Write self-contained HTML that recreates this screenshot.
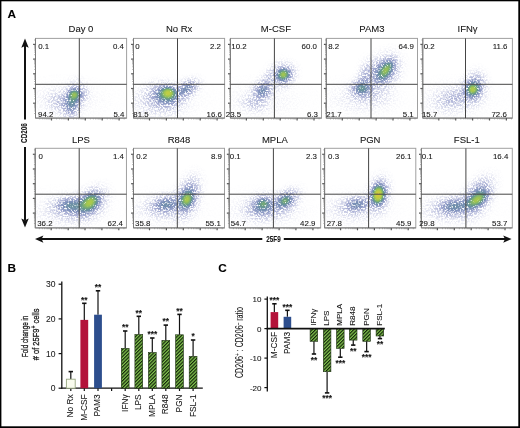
<!DOCTYPE html>
<html><head><meta charset="utf-8"><style>
html,body{margin:0;padding:0;background:#fff;}
body{width:520px;height:428px;overflow:hidden;position:relative;}
svg{position:absolute;left:0;top:0;filter:blur(0.35px);}
text{font-family:"Liberation Sans", sans-serif;stroke:#1a1a1a;stroke-width:0.08px;}
</style></head><body>
<svg width="520" height="428" viewBox="0 0 520 428">
<defs>
<pattern id="hatch" patternUnits="userSpaceOnUse" width="2.45" height="2.45" patternTransform="rotate(45)">
<rect width="2.45" height="2.45" fill="#84c850"/><rect width="1.2" height="2.45" fill="#12230a"/>
</pattern>
<filter id="soft" x="0" y="0" width="1" height="1"><feGaussianBlur stdDeviation="0.45"/></filter>
</defs>
<rect width="520" height="428" fill="#fff"/>

<text x="7.4" y="17.5" font-size="11.8" font-weight="bold" fill="#000">A</text>
<text x="7.6" y="271.9" font-size="11.8" font-weight="bold" fill="#000">B</text>
<text x="218.3" y="271.9" font-size="11.8" font-weight="bold" fill="#000">C</text>
<rect x="35.5" y="38.4" width="91.1" height="79.7" fill="none" stroke="#a0a0a0" stroke-width="1"/>
<path d="M35.5 38.4V118.1H126.6" fill="none" stroke="#7a7a7a" stroke-width="1"/>
<line x1="33.1" y1="44.4" x2="35.5" y2="44.4" stroke="#555" stroke-width="1.2"/>
<line x1="33.1" y1="59.1" x2="35.5" y2="59.1" stroke="#555" stroke-width="1.2"/>
<line x1="33.1" y1="73.8" x2="35.5" y2="73.8" stroke="#555" stroke-width="1.2"/>
<line x1="33.1" y1="88.5" x2="35.5" y2="88.5" stroke="#555" stroke-width="1.2"/>
<line x1="33.1" y1="103.2" x2="35.5" y2="103.2" stroke="#555" stroke-width="1.2"/>
<line x1="34.2" y1="40.0" x2="35.5" y2="40.0" stroke="#8a8a8a" stroke-width="0.7"/>
<line x1="34.2" y1="54.7" x2="35.5" y2="54.7" stroke="#8a8a8a" stroke-width="0.7"/>
<line x1="34.2" y1="52.1" x2="35.5" y2="52.1" stroke="#8a8a8a" stroke-width="0.7"/>
<line x1="34.2" y1="50.2" x2="35.5" y2="50.2" stroke="#8a8a8a" stroke-width="0.7"/>
<line x1="34.2" y1="48.8" x2="35.5" y2="48.8" stroke="#8a8a8a" stroke-width="0.7"/>
<line x1="34.2" y1="47.7" x2="35.5" y2="47.7" stroke="#8a8a8a" stroke-width="0.7"/>
<line x1="34.2" y1="46.7" x2="35.5" y2="46.7" stroke="#8a8a8a" stroke-width="0.7"/>
<line x1="34.2" y1="45.8" x2="35.5" y2="45.8" stroke="#8a8a8a" stroke-width="0.7"/>
<line x1="34.2" y1="45.1" x2="35.5" y2="45.1" stroke="#8a8a8a" stroke-width="0.7"/>
<line x1="34.2" y1="69.4" x2="35.5" y2="69.4" stroke="#8a8a8a" stroke-width="0.7"/>
<line x1="34.2" y1="66.8" x2="35.5" y2="66.8" stroke="#8a8a8a" stroke-width="0.7"/>
<line x1="34.2" y1="64.9" x2="35.5" y2="64.9" stroke="#8a8a8a" stroke-width="0.7"/>
<line x1="34.2" y1="63.5" x2="35.5" y2="63.5" stroke="#8a8a8a" stroke-width="0.7"/>
<line x1="34.2" y1="62.4" x2="35.5" y2="62.4" stroke="#8a8a8a" stroke-width="0.7"/>
<line x1="34.2" y1="61.4" x2="35.5" y2="61.4" stroke="#8a8a8a" stroke-width="0.7"/>
<line x1="34.2" y1="60.5" x2="35.5" y2="60.5" stroke="#8a8a8a" stroke-width="0.7"/>
<line x1="34.2" y1="59.8" x2="35.5" y2="59.8" stroke="#8a8a8a" stroke-width="0.7"/>
<line x1="34.2" y1="84.1" x2="35.5" y2="84.1" stroke="#8a8a8a" stroke-width="0.7"/>
<line x1="34.2" y1="81.5" x2="35.5" y2="81.5" stroke="#8a8a8a" stroke-width="0.7"/>
<line x1="34.2" y1="79.6" x2="35.5" y2="79.6" stroke="#8a8a8a" stroke-width="0.7"/>
<line x1="34.2" y1="78.2" x2="35.5" y2="78.2" stroke="#8a8a8a" stroke-width="0.7"/>
<line x1="34.2" y1="77.1" x2="35.5" y2="77.1" stroke="#8a8a8a" stroke-width="0.7"/>
<line x1="34.2" y1="76.1" x2="35.5" y2="76.1" stroke="#8a8a8a" stroke-width="0.7"/>
<line x1="34.2" y1="75.2" x2="35.5" y2="75.2" stroke="#8a8a8a" stroke-width="0.7"/>
<line x1="34.2" y1="74.5" x2="35.5" y2="74.5" stroke="#8a8a8a" stroke-width="0.7"/>
<line x1="34.2" y1="98.8" x2="35.5" y2="98.8" stroke="#8a8a8a" stroke-width="0.7"/>
<line x1="34.2" y1="96.2" x2="35.5" y2="96.2" stroke="#8a8a8a" stroke-width="0.7"/>
<line x1="34.2" y1="94.3" x2="35.5" y2="94.3" stroke="#8a8a8a" stroke-width="0.7"/>
<line x1="34.2" y1="92.9" x2="35.5" y2="92.9" stroke="#8a8a8a" stroke-width="0.7"/>
<line x1="34.2" y1="91.8" x2="35.5" y2="91.8" stroke="#8a8a8a" stroke-width="0.7"/>
<line x1="34.2" y1="90.8" x2="35.5" y2="90.8" stroke="#8a8a8a" stroke-width="0.7"/>
<line x1="34.2" y1="89.9" x2="35.5" y2="89.9" stroke="#8a8a8a" stroke-width="0.7"/>
<line x1="34.2" y1="89.2" x2="35.5" y2="89.2" stroke="#8a8a8a" stroke-width="0.7"/>
<line x1="34.2" y1="113.5" x2="35.5" y2="113.5" stroke="#8a8a8a" stroke-width="0.7"/>
<line x1="34.2" y1="110.9" x2="35.5" y2="110.9" stroke="#8a8a8a" stroke-width="0.7"/>
<line x1="34.2" y1="109.0" x2="35.5" y2="109.0" stroke="#8a8a8a" stroke-width="0.7"/>
<line x1="34.2" y1="107.6" x2="35.5" y2="107.6" stroke="#8a8a8a" stroke-width="0.7"/>
<line x1="34.2" y1="106.5" x2="35.5" y2="106.5" stroke="#8a8a8a" stroke-width="0.7"/>
<line x1="34.2" y1="105.5" x2="35.5" y2="105.5" stroke="#8a8a8a" stroke-width="0.7"/>
<line x1="34.2" y1="104.6" x2="35.5" y2="104.6" stroke="#8a8a8a" stroke-width="0.7"/>
<line x1="34.2" y1="103.9" x2="35.5" y2="103.9" stroke="#8a8a8a" stroke-width="0.7"/>
<line x1="51.5" y1="118.1" x2="51.5" y2="120.5" stroke="#555" stroke-width="1.2"/>
<line x1="68.4" y1="118.1" x2="68.4" y2="120.5" stroke="#555" stroke-width="1.2"/>
<line x1="85.3" y1="118.1" x2="85.3" y2="120.5" stroke="#555" stroke-width="1.2"/>
<line x1="102.2" y1="118.1" x2="102.2" y2="120.5" stroke="#555" stroke-width="1.2"/>
<line x1="119.1" y1="118.1" x2="119.1" y2="120.5" stroke="#555" stroke-width="1.2"/>
<line x1="39.7" y1="118.1" x2="39.7" y2="119.39999999999999" stroke="#8a8a8a" stroke-width="0.7"/>
<line x1="42.7" y1="118.1" x2="42.7" y2="119.39999999999999" stroke="#8a8a8a" stroke-width="0.7"/>
<line x1="44.8" y1="118.1" x2="44.8" y2="119.39999999999999" stroke="#8a8a8a" stroke-width="0.7"/>
<line x1="46.4" y1="118.1" x2="46.4" y2="119.39999999999999" stroke="#8a8a8a" stroke-width="0.7"/>
<line x1="47.8" y1="118.1" x2="47.8" y2="119.39999999999999" stroke="#8a8a8a" stroke-width="0.7"/>
<line x1="48.9" y1="118.1" x2="48.9" y2="119.39999999999999" stroke="#8a8a8a" stroke-width="0.7"/>
<line x1="49.9" y1="118.1" x2="49.9" y2="119.39999999999999" stroke="#8a8a8a" stroke-width="0.7"/>
<line x1="50.7" y1="118.1" x2="50.7" y2="119.39999999999999" stroke="#8a8a8a" stroke-width="0.7"/>
<line x1="56.6" y1="118.1" x2="56.6" y2="119.39999999999999" stroke="#8a8a8a" stroke-width="0.7"/>
<line x1="59.6" y1="118.1" x2="59.6" y2="119.39999999999999" stroke="#8a8a8a" stroke-width="0.7"/>
<line x1="61.7" y1="118.1" x2="61.7" y2="119.39999999999999" stroke="#8a8a8a" stroke-width="0.7"/>
<line x1="63.3" y1="118.1" x2="63.3" y2="119.39999999999999" stroke="#8a8a8a" stroke-width="0.7"/>
<line x1="64.7" y1="118.1" x2="64.7" y2="119.39999999999999" stroke="#8a8a8a" stroke-width="0.7"/>
<line x1="65.8" y1="118.1" x2="65.8" y2="119.39999999999999" stroke="#8a8a8a" stroke-width="0.7"/>
<line x1="66.8" y1="118.1" x2="66.8" y2="119.39999999999999" stroke="#8a8a8a" stroke-width="0.7"/>
<line x1="67.6" y1="118.1" x2="67.6" y2="119.39999999999999" stroke="#8a8a8a" stroke-width="0.7"/>
<line x1="73.5" y1="118.1" x2="73.5" y2="119.39999999999999" stroke="#8a8a8a" stroke-width="0.7"/>
<line x1="76.5" y1="118.1" x2="76.5" y2="119.39999999999999" stroke="#8a8a8a" stroke-width="0.7"/>
<line x1="78.6" y1="118.1" x2="78.6" y2="119.39999999999999" stroke="#8a8a8a" stroke-width="0.7"/>
<line x1="80.2" y1="118.1" x2="80.2" y2="119.39999999999999" stroke="#8a8a8a" stroke-width="0.7"/>
<line x1="81.6" y1="118.1" x2="81.6" y2="119.39999999999999" stroke="#8a8a8a" stroke-width="0.7"/>
<line x1="82.7" y1="118.1" x2="82.7" y2="119.39999999999999" stroke="#8a8a8a" stroke-width="0.7"/>
<line x1="83.7" y1="118.1" x2="83.7" y2="119.39999999999999" stroke="#8a8a8a" stroke-width="0.7"/>
<line x1="84.5" y1="118.1" x2="84.5" y2="119.39999999999999" stroke="#8a8a8a" stroke-width="0.7"/>
<line x1="90.4" y1="118.1" x2="90.4" y2="119.39999999999999" stroke="#8a8a8a" stroke-width="0.7"/>
<line x1="93.4" y1="118.1" x2="93.4" y2="119.39999999999999" stroke="#8a8a8a" stroke-width="0.7"/>
<line x1="95.5" y1="118.1" x2="95.5" y2="119.39999999999999" stroke="#8a8a8a" stroke-width="0.7"/>
<line x1="97.1" y1="118.1" x2="97.1" y2="119.39999999999999" stroke="#8a8a8a" stroke-width="0.7"/>
<line x1="98.5" y1="118.1" x2="98.5" y2="119.39999999999999" stroke="#8a8a8a" stroke-width="0.7"/>
<line x1="99.6" y1="118.1" x2="99.6" y2="119.39999999999999" stroke="#8a8a8a" stroke-width="0.7"/>
<line x1="100.6" y1="118.1" x2="100.6" y2="119.39999999999999" stroke="#8a8a8a" stroke-width="0.7"/>
<line x1="101.4" y1="118.1" x2="101.4" y2="119.39999999999999" stroke="#8a8a8a" stroke-width="0.7"/>
<line x1="107.3" y1="118.1" x2="107.3" y2="119.39999999999999" stroke="#8a8a8a" stroke-width="0.7"/>
<line x1="110.3" y1="118.1" x2="110.3" y2="119.39999999999999" stroke="#8a8a8a" stroke-width="0.7"/>
<line x1="112.4" y1="118.1" x2="112.4" y2="119.39999999999999" stroke="#8a8a8a" stroke-width="0.7"/>
<line x1="114.0" y1="118.1" x2="114.0" y2="119.39999999999999" stroke="#8a8a8a" stroke-width="0.7"/>
<line x1="115.4" y1="118.1" x2="115.4" y2="119.39999999999999" stroke="#8a8a8a" stroke-width="0.7"/>
<line x1="116.5" y1="118.1" x2="116.5" y2="119.39999999999999" stroke="#8a8a8a" stroke-width="0.7"/>
<line x1="117.5" y1="118.1" x2="117.5" y2="119.39999999999999" stroke="#8a8a8a" stroke-width="0.7"/>
<line x1="118.3" y1="118.1" x2="118.3" y2="119.39999999999999" stroke="#8a8a8a" stroke-width="0.7"/>
<line x1="124.2" y1="118.1" x2="124.2" y2="119.39999999999999" stroke="#8a8a8a" stroke-width="0.7"/>
<rect x="133.5" y="38.4" width="91.1" height="79.7" fill="none" stroke="#a0a0a0" stroke-width="1"/>
<path d="M133.5 38.4V118.1H224.6" fill="none" stroke="#7a7a7a" stroke-width="1"/>
<line x1="131.1" y1="44.4" x2="133.5" y2="44.4" stroke="#555" stroke-width="1.2"/>
<line x1="131.1" y1="59.1" x2="133.5" y2="59.1" stroke="#555" stroke-width="1.2"/>
<line x1="131.1" y1="73.8" x2="133.5" y2="73.8" stroke="#555" stroke-width="1.2"/>
<line x1="131.1" y1="88.5" x2="133.5" y2="88.5" stroke="#555" stroke-width="1.2"/>
<line x1="131.1" y1="103.2" x2="133.5" y2="103.2" stroke="#555" stroke-width="1.2"/>
<line x1="132.2" y1="40.0" x2="133.5" y2="40.0" stroke="#8a8a8a" stroke-width="0.7"/>
<line x1="132.2" y1="54.7" x2="133.5" y2="54.7" stroke="#8a8a8a" stroke-width="0.7"/>
<line x1="132.2" y1="52.1" x2="133.5" y2="52.1" stroke="#8a8a8a" stroke-width="0.7"/>
<line x1="132.2" y1="50.2" x2="133.5" y2="50.2" stroke="#8a8a8a" stroke-width="0.7"/>
<line x1="132.2" y1="48.8" x2="133.5" y2="48.8" stroke="#8a8a8a" stroke-width="0.7"/>
<line x1="132.2" y1="47.7" x2="133.5" y2="47.7" stroke="#8a8a8a" stroke-width="0.7"/>
<line x1="132.2" y1="46.7" x2="133.5" y2="46.7" stroke="#8a8a8a" stroke-width="0.7"/>
<line x1="132.2" y1="45.8" x2="133.5" y2="45.8" stroke="#8a8a8a" stroke-width="0.7"/>
<line x1="132.2" y1="45.1" x2="133.5" y2="45.1" stroke="#8a8a8a" stroke-width="0.7"/>
<line x1="132.2" y1="69.4" x2="133.5" y2="69.4" stroke="#8a8a8a" stroke-width="0.7"/>
<line x1="132.2" y1="66.8" x2="133.5" y2="66.8" stroke="#8a8a8a" stroke-width="0.7"/>
<line x1="132.2" y1="64.9" x2="133.5" y2="64.9" stroke="#8a8a8a" stroke-width="0.7"/>
<line x1="132.2" y1="63.5" x2="133.5" y2="63.5" stroke="#8a8a8a" stroke-width="0.7"/>
<line x1="132.2" y1="62.4" x2="133.5" y2="62.4" stroke="#8a8a8a" stroke-width="0.7"/>
<line x1="132.2" y1="61.4" x2="133.5" y2="61.4" stroke="#8a8a8a" stroke-width="0.7"/>
<line x1="132.2" y1="60.5" x2="133.5" y2="60.5" stroke="#8a8a8a" stroke-width="0.7"/>
<line x1="132.2" y1="59.8" x2="133.5" y2="59.8" stroke="#8a8a8a" stroke-width="0.7"/>
<line x1="132.2" y1="84.1" x2="133.5" y2="84.1" stroke="#8a8a8a" stroke-width="0.7"/>
<line x1="132.2" y1="81.5" x2="133.5" y2="81.5" stroke="#8a8a8a" stroke-width="0.7"/>
<line x1="132.2" y1="79.6" x2="133.5" y2="79.6" stroke="#8a8a8a" stroke-width="0.7"/>
<line x1="132.2" y1="78.2" x2="133.5" y2="78.2" stroke="#8a8a8a" stroke-width="0.7"/>
<line x1="132.2" y1="77.1" x2="133.5" y2="77.1" stroke="#8a8a8a" stroke-width="0.7"/>
<line x1="132.2" y1="76.1" x2="133.5" y2="76.1" stroke="#8a8a8a" stroke-width="0.7"/>
<line x1="132.2" y1="75.2" x2="133.5" y2="75.2" stroke="#8a8a8a" stroke-width="0.7"/>
<line x1="132.2" y1="74.5" x2="133.5" y2="74.5" stroke="#8a8a8a" stroke-width="0.7"/>
<line x1="132.2" y1="98.8" x2="133.5" y2="98.8" stroke="#8a8a8a" stroke-width="0.7"/>
<line x1="132.2" y1="96.2" x2="133.5" y2="96.2" stroke="#8a8a8a" stroke-width="0.7"/>
<line x1="132.2" y1="94.3" x2="133.5" y2="94.3" stroke="#8a8a8a" stroke-width="0.7"/>
<line x1="132.2" y1="92.9" x2="133.5" y2="92.9" stroke="#8a8a8a" stroke-width="0.7"/>
<line x1="132.2" y1="91.8" x2="133.5" y2="91.8" stroke="#8a8a8a" stroke-width="0.7"/>
<line x1="132.2" y1="90.8" x2="133.5" y2="90.8" stroke="#8a8a8a" stroke-width="0.7"/>
<line x1="132.2" y1="89.9" x2="133.5" y2="89.9" stroke="#8a8a8a" stroke-width="0.7"/>
<line x1="132.2" y1="89.2" x2="133.5" y2="89.2" stroke="#8a8a8a" stroke-width="0.7"/>
<line x1="132.2" y1="113.5" x2="133.5" y2="113.5" stroke="#8a8a8a" stroke-width="0.7"/>
<line x1="132.2" y1="110.9" x2="133.5" y2="110.9" stroke="#8a8a8a" stroke-width="0.7"/>
<line x1="132.2" y1="109.0" x2="133.5" y2="109.0" stroke="#8a8a8a" stroke-width="0.7"/>
<line x1="132.2" y1="107.6" x2="133.5" y2="107.6" stroke="#8a8a8a" stroke-width="0.7"/>
<line x1="132.2" y1="106.5" x2="133.5" y2="106.5" stroke="#8a8a8a" stroke-width="0.7"/>
<line x1="132.2" y1="105.5" x2="133.5" y2="105.5" stroke="#8a8a8a" stroke-width="0.7"/>
<line x1="132.2" y1="104.6" x2="133.5" y2="104.6" stroke="#8a8a8a" stroke-width="0.7"/>
<line x1="132.2" y1="103.9" x2="133.5" y2="103.9" stroke="#8a8a8a" stroke-width="0.7"/>
<line x1="149.5" y1="118.1" x2="149.5" y2="120.5" stroke="#555" stroke-width="1.2"/>
<line x1="166.4" y1="118.1" x2="166.4" y2="120.5" stroke="#555" stroke-width="1.2"/>
<line x1="183.3" y1="118.1" x2="183.3" y2="120.5" stroke="#555" stroke-width="1.2"/>
<line x1="200.2" y1="118.1" x2="200.2" y2="120.5" stroke="#555" stroke-width="1.2"/>
<line x1="217.1" y1="118.1" x2="217.1" y2="120.5" stroke="#555" stroke-width="1.2"/>
<line x1="137.7" y1="118.1" x2="137.7" y2="119.39999999999999" stroke="#8a8a8a" stroke-width="0.7"/>
<line x1="140.7" y1="118.1" x2="140.7" y2="119.39999999999999" stroke="#8a8a8a" stroke-width="0.7"/>
<line x1="142.8" y1="118.1" x2="142.8" y2="119.39999999999999" stroke="#8a8a8a" stroke-width="0.7"/>
<line x1="144.4" y1="118.1" x2="144.4" y2="119.39999999999999" stroke="#8a8a8a" stroke-width="0.7"/>
<line x1="145.8" y1="118.1" x2="145.8" y2="119.39999999999999" stroke="#8a8a8a" stroke-width="0.7"/>
<line x1="146.9" y1="118.1" x2="146.9" y2="119.39999999999999" stroke="#8a8a8a" stroke-width="0.7"/>
<line x1="147.9" y1="118.1" x2="147.9" y2="119.39999999999999" stroke="#8a8a8a" stroke-width="0.7"/>
<line x1="148.7" y1="118.1" x2="148.7" y2="119.39999999999999" stroke="#8a8a8a" stroke-width="0.7"/>
<line x1="154.6" y1="118.1" x2="154.6" y2="119.39999999999999" stroke="#8a8a8a" stroke-width="0.7"/>
<line x1="157.6" y1="118.1" x2="157.6" y2="119.39999999999999" stroke="#8a8a8a" stroke-width="0.7"/>
<line x1="159.7" y1="118.1" x2="159.7" y2="119.39999999999999" stroke="#8a8a8a" stroke-width="0.7"/>
<line x1="161.3" y1="118.1" x2="161.3" y2="119.39999999999999" stroke="#8a8a8a" stroke-width="0.7"/>
<line x1="162.7" y1="118.1" x2="162.7" y2="119.39999999999999" stroke="#8a8a8a" stroke-width="0.7"/>
<line x1="163.8" y1="118.1" x2="163.8" y2="119.39999999999999" stroke="#8a8a8a" stroke-width="0.7"/>
<line x1="164.8" y1="118.1" x2="164.8" y2="119.39999999999999" stroke="#8a8a8a" stroke-width="0.7"/>
<line x1="165.6" y1="118.1" x2="165.6" y2="119.39999999999999" stroke="#8a8a8a" stroke-width="0.7"/>
<line x1="171.5" y1="118.1" x2="171.5" y2="119.39999999999999" stroke="#8a8a8a" stroke-width="0.7"/>
<line x1="174.5" y1="118.1" x2="174.5" y2="119.39999999999999" stroke="#8a8a8a" stroke-width="0.7"/>
<line x1="176.6" y1="118.1" x2="176.6" y2="119.39999999999999" stroke="#8a8a8a" stroke-width="0.7"/>
<line x1="178.2" y1="118.1" x2="178.2" y2="119.39999999999999" stroke="#8a8a8a" stroke-width="0.7"/>
<line x1="179.6" y1="118.1" x2="179.6" y2="119.39999999999999" stroke="#8a8a8a" stroke-width="0.7"/>
<line x1="180.7" y1="118.1" x2="180.7" y2="119.39999999999999" stroke="#8a8a8a" stroke-width="0.7"/>
<line x1="181.7" y1="118.1" x2="181.7" y2="119.39999999999999" stroke="#8a8a8a" stroke-width="0.7"/>
<line x1="182.5" y1="118.1" x2="182.5" y2="119.39999999999999" stroke="#8a8a8a" stroke-width="0.7"/>
<line x1="188.4" y1="118.1" x2="188.4" y2="119.39999999999999" stroke="#8a8a8a" stroke-width="0.7"/>
<line x1="191.4" y1="118.1" x2="191.4" y2="119.39999999999999" stroke="#8a8a8a" stroke-width="0.7"/>
<line x1="193.5" y1="118.1" x2="193.5" y2="119.39999999999999" stroke="#8a8a8a" stroke-width="0.7"/>
<line x1="195.1" y1="118.1" x2="195.1" y2="119.39999999999999" stroke="#8a8a8a" stroke-width="0.7"/>
<line x1="196.5" y1="118.1" x2="196.5" y2="119.39999999999999" stroke="#8a8a8a" stroke-width="0.7"/>
<line x1="197.6" y1="118.1" x2="197.6" y2="119.39999999999999" stroke="#8a8a8a" stroke-width="0.7"/>
<line x1="198.6" y1="118.1" x2="198.6" y2="119.39999999999999" stroke="#8a8a8a" stroke-width="0.7"/>
<line x1="199.4" y1="118.1" x2="199.4" y2="119.39999999999999" stroke="#8a8a8a" stroke-width="0.7"/>
<line x1="205.3" y1="118.1" x2="205.3" y2="119.39999999999999" stroke="#8a8a8a" stroke-width="0.7"/>
<line x1="208.3" y1="118.1" x2="208.3" y2="119.39999999999999" stroke="#8a8a8a" stroke-width="0.7"/>
<line x1="210.4" y1="118.1" x2="210.4" y2="119.39999999999999" stroke="#8a8a8a" stroke-width="0.7"/>
<line x1="212.0" y1="118.1" x2="212.0" y2="119.39999999999999" stroke="#8a8a8a" stroke-width="0.7"/>
<line x1="213.4" y1="118.1" x2="213.4" y2="119.39999999999999" stroke="#8a8a8a" stroke-width="0.7"/>
<line x1="214.5" y1="118.1" x2="214.5" y2="119.39999999999999" stroke="#8a8a8a" stroke-width="0.7"/>
<line x1="215.5" y1="118.1" x2="215.5" y2="119.39999999999999" stroke="#8a8a8a" stroke-width="0.7"/>
<line x1="216.3" y1="118.1" x2="216.3" y2="119.39999999999999" stroke="#8a8a8a" stroke-width="0.7"/>
<line x1="222.2" y1="118.1" x2="222.2" y2="119.39999999999999" stroke="#8a8a8a" stroke-width="0.7"/>
<rect x="230.4" y="38.4" width="91.1" height="79.7" fill="none" stroke="#a0a0a0" stroke-width="1"/>
<path d="M230.4 38.4V118.1H321.5" fill="none" stroke="#7a7a7a" stroke-width="1"/>
<line x1="228.0" y1="44.4" x2="230.4" y2="44.4" stroke="#555" stroke-width="1.2"/>
<line x1="228.0" y1="59.1" x2="230.4" y2="59.1" stroke="#555" stroke-width="1.2"/>
<line x1="228.0" y1="73.8" x2="230.4" y2="73.8" stroke="#555" stroke-width="1.2"/>
<line x1="228.0" y1="88.5" x2="230.4" y2="88.5" stroke="#555" stroke-width="1.2"/>
<line x1="228.0" y1="103.2" x2="230.4" y2="103.2" stroke="#555" stroke-width="1.2"/>
<line x1="229.1" y1="40.0" x2="230.4" y2="40.0" stroke="#8a8a8a" stroke-width="0.7"/>
<line x1="229.1" y1="54.7" x2="230.4" y2="54.7" stroke="#8a8a8a" stroke-width="0.7"/>
<line x1="229.1" y1="52.1" x2="230.4" y2="52.1" stroke="#8a8a8a" stroke-width="0.7"/>
<line x1="229.1" y1="50.2" x2="230.4" y2="50.2" stroke="#8a8a8a" stroke-width="0.7"/>
<line x1="229.1" y1="48.8" x2="230.4" y2="48.8" stroke="#8a8a8a" stroke-width="0.7"/>
<line x1="229.1" y1="47.7" x2="230.4" y2="47.7" stroke="#8a8a8a" stroke-width="0.7"/>
<line x1="229.1" y1="46.7" x2="230.4" y2="46.7" stroke="#8a8a8a" stroke-width="0.7"/>
<line x1="229.1" y1="45.8" x2="230.4" y2="45.8" stroke="#8a8a8a" stroke-width="0.7"/>
<line x1="229.1" y1="45.1" x2="230.4" y2="45.1" stroke="#8a8a8a" stroke-width="0.7"/>
<line x1="229.1" y1="69.4" x2="230.4" y2="69.4" stroke="#8a8a8a" stroke-width="0.7"/>
<line x1="229.1" y1="66.8" x2="230.4" y2="66.8" stroke="#8a8a8a" stroke-width="0.7"/>
<line x1="229.1" y1="64.9" x2="230.4" y2="64.9" stroke="#8a8a8a" stroke-width="0.7"/>
<line x1="229.1" y1="63.5" x2="230.4" y2="63.5" stroke="#8a8a8a" stroke-width="0.7"/>
<line x1="229.1" y1="62.4" x2="230.4" y2="62.4" stroke="#8a8a8a" stroke-width="0.7"/>
<line x1="229.1" y1="61.4" x2="230.4" y2="61.4" stroke="#8a8a8a" stroke-width="0.7"/>
<line x1="229.1" y1="60.5" x2="230.4" y2="60.5" stroke="#8a8a8a" stroke-width="0.7"/>
<line x1="229.1" y1="59.8" x2="230.4" y2="59.8" stroke="#8a8a8a" stroke-width="0.7"/>
<line x1="229.1" y1="84.1" x2="230.4" y2="84.1" stroke="#8a8a8a" stroke-width="0.7"/>
<line x1="229.1" y1="81.5" x2="230.4" y2="81.5" stroke="#8a8a8a" stroke-width="0.7"/>
<line x1="229.1" y1="79.6" x2="230.4" y2="79.6" stroke="#8a8a8a" stroke-width="0.7"/>
<line x1="229.1" y1="78.2" x2="230.4" y2="78.2" stroke="#8a8a8a" stroke-width="0.7"/>
<line x1="229.1" y1="77.1" x2="230.4" y2="77.1" stroke="#8a8a8a" stroke-width="0.7"/>
<line x1="229.1" y1="76.1" x2="230.4" y2="76.1" stroke="#8a8a8a" stroke-width="0.7"/>
<line x1="229.1" y1="75.2" x2="230.4" y2="75.2" stroke="#8a8a8a" stroke-width="0.7"/>
<line x1="229.1" y1="74.5" x2="230.4" y2="74.5" stroke="#8a8a8a" stroke-width="0.7"/>
<line x1="229.1" y1="98.8" x2="230.4" y2="98.8" stroke="#8a8a8a" stroke-width="0.7"/>
<line x1="229.1" y1="96.2" x2="230.4" y2="96.2" stroke="#8a8a8a" stroke-width="0.7"/>
<line x1="229.1" y1="94.3" x2="230.4" y2="94.3" stroke="#8a8a8a" stroke-width="0.7"/>
<line x1="229.1" y1="92.9" x2="230.4" y2="92.9" stroke="#8a8a8a" stroke-width="0.7"/>
<line x1="229.1" y1="91.8" x2="230.4" y2="91.8" stroke="#8a8a8a" stroke-width="0.7"/>
<line x1="229.1" y1="90.8" x2="230.4" y2="90.8" stroke="#8a8a8a" stroke-width="0.7"/>
<line x1="229.1" y1="89.9" x2="230.4" y2="89.9" stroke="#8a8a8a" stroke-width="0.7"/>
<line x1="229.1" y1="89.2" x2="230.4" y2="89.2" stroke="#8a8a8a" stroke-width="0.7"/>
<line x1="229.1" y1="113.5" x2="230.4" y2="113.5" stroke="#8a8a8a" stroke-width="0.7"/>
<line x1="229.1" y1="110.9" x2="230.4" y2="110.9" stroke="#8a8a8a" stroke-width="0.7"/>
<line x1="229.1" y1="109.0" x2="230.4" y2="109.0" stroke="#8a8a8a" stroke-width="0.7"/>
<line x1="229.1" y1="107.6" x2="230.4" y2="107.6" stroke="#8a8a8a" stroke-width="0.7"/>
<line x1="229.1" y1="106.5" x2="230.4" y2="106.5" stroke="#8a8a8a" stroke-width="0.7"/>
<line x1="229.1" y1="105.5" x2="230.4" y2="105.5" stroke="#8a8a8a" stroke-width="0.7"/>
<line x1="229.1" y1="104.6" x2="230.4" y2="104.6" stroke="#8a8a8a" stroke-width="0.7"/>
<line x1="229.1" y1="103.9" x2="230.4" y2="103.9" stroke="#8a8a8a" stroke-width="0.7"/>
<line x1="246.4" y1="118.1" x2="246.4" y2="120.5" stroke="#555" stroke-width="1.2"/>
<line x1="263.3" y1="118.1" x2="263.3" y2="120.5" stroke="#555" stroke-width="1.2"/>
<line x1="280.2" y1="118.1" x2="280.2" y2="120.5" stroke="#555" stroke-width="1.2"/>
<line x1="297.1" y1="118.1" x2="297.1" y2="120.5" stroke="#555" stroke-width="1.2"/>
<line x1="314.0" y1="118.1" x2="314.0" y2="120.5" stroke="#555" stroke-width="1.2"/>
<line x1="234.6" y1="118.1" x2="234.6" y2="119.39999999999999" stroke="#8a8a8a" stroke-width="0.7"/>
<line x1="237.6" y1="118.1" x2="237.6" y2="119.39999999999999" stroke="#8a8a8a" stroke-width="0.7"/>
<line x1="239.7" y1="118.1" x2="239.7" y2="119.39999999999999" stroke="#8a8a8a" stroke-width="0.7"/>
<line x1="241.3" y1="118.1" x2="241.3" y2="119.39999999999999" stroke="#8a8a8a" stroke-width="0.7"/>
<line x1="242.7" y1="118.1" x2="242.7" y2="119.39999999999999" stroke="#8a8a8a" stroke-width="0.7"/>
<line x1="243.8" y1="118.1" x2="243.8" y2="119.39999999999999" stroke="#8a8a8a" stroke-width="0.7"/>
<line x1="244.8" y1="118.1" x2="244.8" y2="119.39999999999999" stroke="#8a8a8a" stroke-width="0.7"/>
<line x1="245.6" y1="118.1" x2="245.6" y2="119.39999999999999" stroke="#8a8a8a" stroke-width="0.7"/>
<line x1="251.5" y1="118.1" x2="251.5" y2="119.39999999999999" stroke="#8a8a8a" stroke-width="0.7"/>
<line x1="254.5" y1="118.1" x2="254.5" y2="119.39999999999999" stroke="#8a8a8a" stroke-width="0.7"/>
<line x1="256.6" y1="118.1" x2="256.6" y2="119.39999999999999" stroke="#8a8a8a" stroke-width="0.7"/>
<line x1="258.2" y1="118.1" x2="258.2" y2="119.39999999999999" stroke="#8a8a8a" stroke-width="0.7"/>
<line x1="259.6" y1="118.1" x2="259.6" y2="119.39999999999999" stroke="#8a8a8a" stroke-width="0.7"/>
<line x1="260.7" y1="118.1" x2="260.7" y2="119.39999999999999" stroke="#8a8a8a" stroke-width="0.7"/>
<line x1="261.7" y1="118.1" x2="261.7" y2="119.39999999999999" stroke="#8a8a8a" stroke-width="0.7"/>
<line x1="262.5" y1="118.1" x2="262.5" y2="119.39999999999999" stroke="#8a8a8a" stroke-width="0.7"/>
<line x1="268.4" y1="118.1" x2="268.4" y2="119.39999999999999" stroke="#8a8a8a" stroke-width="0.7"/>
<line x1="271.4" y1="118.1" x2="271.4" y2="119.39999999999999" stroke="#8a8a8a" stroke-width="0.7"/>
<line x1="273.5" y1="118.1" x2="273.5" y2="119.39999999999999" stroke="#8a8a8a" stroke-width="0.7"/>
<line x1="275.1" y1="118.1" x2="275.1" y2="119.39999999999999" stroke="#8a8a8a" stroke-width="0.7"/>
<line x1="276.5" y1="118.1" x2="276.5" y2="119.39999999999999" stroke="#8a8a8a" stroke-width="0.7"/>
<line x1="277.6" y1="118.1" x2="277.6" y2="119.39999999999999" stroke="#8a8a8a" stroke-width="0.7"/>
<line x1="278.6" y1="118.1" x2="278.6" y2="119.39999999999999" stroke="#8a8a8a" stroke-width="0.7"/>
<line x1="279.4" y1="118.1" x2="279.4" y2="119.39999999999999" stroke="#8a8a8a" stroke-width="0.7"/>
<line x1="285.3" y1="118.1" x2="285.3" y2="119.39999999999999" stroke="#8a8a8a" stroke-width="0.7"/>
<line x1="288.3" y1="118.1" x2="288.3" y2="119.39999999999999" stroke="#8a8a8a" stroke-width="0.7"/>
<line x1="290.4" y1="118.1" x2="290.4" y2="119.39999999999999" stroke="#8a8a8a" stroke-width="0.7"/>
<line x1="292.0" y1="118.1" x2="292.0" y2="119.39999999999999" stroke="#8a8a8a" stroke-width="0.7"/>
<line x1="293.4" y1="118.1" x2="293.4" y2="119.39999999999999" stroke="#8a8a8a" stroke-width="0.7"/>
<line x1="294.5" y1="118.1" x2="294.5" y2="119.39999999999999" stroke="#8a8a8a" stroke-width="0.7"/>
<line x1="295.5" y1="118.1" x2="295.5" y2="119.39999999999999" stroke="#8a8a8a" stroke-width="0.7"/>
<line x1="296.3" y1="118.1" x2="296.3" y2="119.39999999999999" stroke="#8a8a8a" stroke-width="0.7"/>
<line x1="302.2" y1="118.1" x2="302.2" y2="119.39999999999999" stroke="#8a8a8a" stroke-width="0.7"/>
<line x1="305.2" y1="118.1" x2="305.2" y2="119.39999999999999" stroke="#8a8a8a" stroke-width="0.7"/>
<line x1="307.3" y1="118.1" x2="307.3" y2="119.39999999999999" stroke="#8a8a8a" stroke-width="0.7"/>
<line x1="308.9" y1="118.1" x2="308.9" y2="119.39999999999999" stroke="#8a8a8a" stroke-width="0.7"/>
<line x1="310.3" y1="118.1" x2="310.3" y2="119.39999999999999" stroke="#8a8a8a" stroke-width="0.7"/>
<line x1="311.4" y1="118.1" x2="311.4" y2="119.39999999999999" stroke="#8a8a8a" stroke-width="0.7"/>
<line x1="312.4" y1="118.1" x2="312.4" y2="119.39999999999999" stroke="#8a8a8a" stroke-width="0.7"/>
<line x1="313.2" y1="118.1" x2="313.2" y2="119.39999999999999" stroke="#8a8a8a" stroke-width="0.7"/>
<line x1="319.1" y1="118.1" x2="319.1" y2="119.39999999999999" stroke="#8a8a8a" stroke-width="0.7"/>
<rect x="326.3" y="38.4" width="91.2" height="79.7" fill="none" stroke="#a0a0a0" stroke-width="1"/>
<path d="M326.3 38.4V118.1H417.5" fill="none" stroke="#7a7a7a" stroke-width="1"/>
<line x1="323.90000000000003" y1="44.4" x2="326.3" y2="44.4" stroke="#555" stroke-width="1.2"/>
<line x1="323.90000000000003" y1="59.1" x2="326.3" y2="59.1" stroke="#555" stroke-width="1.2"/>
<line x1="323.90000000000003" y1="73.8" x2="326.3" y2="73.8" stroke="#555" stroke-width="1.2"/>
<line x1="323.90000000000003" y1="88.5" x2="326.3" y2="88.5" stroke="#555" stroke-width="1.2"/>
<line x1="323.90000000000003" y1="103.2" x2="326.3" y2="103.2" stroke="#555" stroke-width="1.2"/>
<line x1="325.0" y1="40.0" x2="326.3" y2="40.0" stroke="#8a8a8a" stroke-width="0.7"/>
<line x1="325.0" y1="54.7" x2="326.3" y2="54.7" stroke="#8a8a8a" stroke-width="0.7"/>
<line x1="325.0" y1="52.1" x2="326.3" y2="52.1" stroke="#8a8a8a" stroke-width="0.7"/>
<line x1="325.0" y1="50.2" x2="326.3" y2="50.2" stroke="#8a8a8a" stroke-width="0.7"/>
<line x1="325.0" y1="48.8" x2="326.3" y2="48.8" stroke="#8a8a8a" stroke-width="0.7"/>
<line x1="325.0" y1="47.7" x2="326.3" y2="47.7" stroke="#8a8a8a" stroke-width="0.7"/>
<line x1="325.0" y1="46.7" x2="326.3" y2="46.7" stroke="#8a8a8a" stroke-width="0.7"/>
<line x1="325.0" y1="45.8" x2="326.3" y2="45.8" stroke="#8a8a8a" stroke-width="0.7"/>
<line x1="325.0" y1="45.1" x2="326.3" y2="45.1" stroke="#8a8a8a" stroke-width="0.7"/>
<line x1="325.0" y1="69.4" x2="326.3" y2="69.4" stroke="#8a8a8a" stroke-width="0.7"/>
<line x1="325.0" y1="66.8" x2="326.3" y2="66.8" stroke="#8a8a8a" stroke-width="0.7"/>
<line x1="325.0" y1="64.9" x2="326.3" y2="64.9" stroke="#8a8a8a" stroke-width="0.7"/>
<line x1="325.0" y1="63.5" x2="326.3" y2="63.5" stroke="#8a8a8a" stroke-width="0.7"/>
<line x1="325.0" y1="62.4" x2="326.3" y2="62.4" stroke="#8a8a8a" stroke-width="0.7"/>
<line x1="325.0" y1="61.4" x2="326.3" y2="61.4" stroke="#8a8a8a" stroke-width="0.7"/>
<line x1="325.0" y1="60.5" x2="326.3" y2="60.5" stroke="#8a8a8a" stroke-width="0.7"/>
<line x1="325.0" y1="59.8" x2="326.3" y2="59.8" stroke="#8a8a8a" stroke-width="0.7"/>
<line x1="325.0" y1="84.1" x2="326.3" y2="84.1" stroke="#8a8a8a" stroke-width="0.7"/>
<line x1="325.0" y1="81.5" x2="326.3" y2="81.5" stroke="#8a8a8a" stroke-width="0.7"/>
<line x1="325.0" y1="79.6" x2="326.3" y2="79.6" stroke="#8a8a8a" stroke-width="0.7"/>
<line x1="325.0" y1="78.2" x2="326.3" y2="78.2" stroke="#8a8a8a" stroke-width="0.7"/>
<line x1="325.0" y1="77.1" x2="326.3" y2="77.1" stroke="#8a8a8a" stroke-width="0.7"/>
<line x1="325.0" y1="76.1" x2="326.3" y2="76.1" stroke="#8a8a8a" stroke-width="0.7"/>
<line x1="325.0" y1="75.2" x2="326.3" y2="75.2" stroke="#8a8a8a" stroke-width="0.7"/>
<line x1="325.0" y1="74.5" x2="326.3" y2="74.5" stroke="#8a8a8a" stroke-width="0.7"/>
<line x1="325.0" y1="98.8" x2="326.3" y2="98.8" stroke="#8a8a8a" stroke-width="0.7"/>
<line x1="325.0" y1="96.2" x2="326.3" y2="96.2" stroke="#8a8a8a" stroke-width="0.7"/>
<line x1="325.0" y1="94.3" x2="326.3" y2="94.3" stroke="#8a8a8a" stroke-width="0.7"/>
<line x1="325.0" y1="92.9" x2="326.3" y2="92.9" stroke="#8a8a8a" stroke-width="0.7"/>
<line x1="325.0" y1="91.8" x2="326.3" y2="91.8" stroke="#8a8a8a" stroke-width="0.7"/>
<line x1="325.0" y1="90.8" x2="326.3" y2="90.8" stroke="#8a8a8a" stroke-width="0.7"/>
<line x1="325.0" y1="89.9" x2="326.3" y2="89.9" stroke="#8a8a8a" stroke-width="0.7"/>
<line x1="325.0" y1="89.2" x2="326.3" y2="89.2" stroke="#8a8a8a" stroke-width="0.7"/>
<line x1="325.0" y1="113.5" x2="326.3" y2="113.5" stroke="#8a8a8a" stroke-width="0.7"/>
<line x1="325.0" y1="110.9" x2="326.3" y2="110.9" stroke="#8a8a8a" stroke-width="0.7"/>
<line x1="325.0" y1="109.0" x2="326.3" y2="109.0" stroke="#8a8a8a" stroke-width="0.7"/>
<line x1="325.0" y1="107.6" x2="326.3" y2="107.6" stroke="#8a8a8a" stroke-width="0.7"/>
<line x1="325.0" y1="106.5" x2="326.3" y2="106.5" stroke="#8a8a8a" stroke-width="0.7"/>
<line x1="325.0" y1="105.5" x2="326.3" y2="105.5" stroke="#8a8a8a" stroke-width="0.7"/>
<line x1="325.0" y1="104.6" x2="326.3" y2="104.6" stroke="#8a8a8a" stroke-width="0.7"/>
<line x1="325.0" y1="103.9" x2="326.3" y2="103.9" stroke="#8a8a8a" stroke-width="0.7"/>
<line x1="342.3" y1="118.1" x2="342.3" y2="120.5" stroke="#555" stroke-width="1.2"/>
<line x1="359.2" y1="118.1" x2="359.2" y2="120.5" stroke="#555" stroke-width="1.2"/>
<line x1="376.1" y1="118.1" x2="376.1" y2="120.5" stroke="#555" stroke-width="1.2"/>
<line x1="393.0" y1="118.1" x2="393.0" y2="120.5" stroke="#555" stroke-width="1.2"/>
<line x1="409.9" y1="118.1" x2="409.9" y2="120.5" stroke="#555" stroke-width="1.2"/>
<line x1="330.5" y1="118.1" x2="330.5" y2="119.39999999999999" stroke="#8a8a8a" stroke-width="0.7"/>
<line x1="333.5" y1="118.1" x2="333.5" y2="119.39999999999999" stroke="#8a8a8a" stroke-width="0.7"/>
<line x1="335.6" y1="118.1" x2="335.6" y2="119.39999999999999" stroke="#8a8a8a" stroke-width="0.7"/>
<line x1="337.2" y1="118.1" x2="337.2" y2="119.39999999999999" stroke="#8a8a8a" stroke-width="0.7"/>
<line x1="338.6" y1="118.1" x2="338.6" y2="119.39999999999999" stroke="#8a8a8a" stroke-width="0.7"/>
<line x1="339.7" y1="118.1" x2="339.7" y2="119.39999999999999" stroke="#8a8a8a" stroke-width="0.7"/>
<line x1="340.7" y1="118.1" x2="340.7" y2="119.39999999999999" stroke="#8a8a8a" stroke-width="0.7"/>
<line x1="341.5" y1="118.1" x2="341.5" y2="119.39999999999999" stroke="#8a8a8a" stroke-width="0.7"/>
<line x1="347.4" y1="118.1" x2="347.4" y2="119.39999999999999" stroke="#8a8a8a" stroke-width="0.7"/>
<line x1="350.4" y1="118.1" x2="350.4" y2="119.39999999999999" stroke="#8a8a8a" stroke-width="0.7"/>
<line x1="352.5" y1="118.1" x2="352.5" y2="119.39999999999999" stroke="#8a8a8a" stroke-width="0.7"/>
<line x1="354.1" y1="118.1" x2="354.1" y2="119.39999999999999" stroke="#8a8a8a" stroke-width="0.7"/>
<line x1="355.5" y1="118.1" x2="355.5" y2="119.39999999999999" stroke="#8a8a8a" stroke-width="0.7"/>
<line x1="356.6" y1="118.1" x2="356.6" y2="119.39999999999999" stroke="#8a8a8a" stroke-width="0.7"/>
<line x1="357.6" y1="118.1" x2="357.6" y2="119.39999999999999" stroke="#8a8a8a" stroke-width="0.7"/>
<line x1="358.4" y1="118.1" x2="358.4" y2="119.39999999999999" stroke="#8a8a8a" stroke-width="0.7"/>
<line x1="364.3" y1="118.1" x2="364.3" y2="119.39999999999999" stroke="#8a8a8a" stroke-width="0.7"/>
<line x1="367.3" y1="118.1" x2="367.3" y2="119.39999999999999" stroke="#8a8a8a" stroke-width="0.7"/>
<line x1="369.4" y1="118.1" x2="369.4" y2="119.39999999999999" stroke="#8a8a8a" stroke-width="0.7"/>
<line x1="371.0" y1="118.1" x2="371.0" y2="119.39999999999999" stroke="#8a8a8a" stroke-width="0.7"/>
<line x1="372.4" y1="118.1" x2="372.4" y2="119.39999999999999" stroke="#8a8a8a" stroke-width="0.7"/>
<line x1="373.5" y1="118.1" x2="373.5" y2="119.39999999999999" stroke="#8a8a8a" stroke-width="0.7"/>
<line x1="374.5" y1="118.1" x2="374.5" y2="119.39999999999999" stroke="#8a8a8a" stroke-width="0.7"/>
<line x1="375.3" y1="118.1" x2="375.3" y2="119.39999999999999" stroke="#8a8a8a" stroke-width="0.7"/>
<line x1="381.2" y1="118.1" x2="381.2" y2="119.39999999999999" stroke="#8a8a8a" stroke-width="0.7"/>
<line x1="384.2" y1="118.1" x2="384.2" y2="119.39999999999999" stroke="#8a8a8a" stroke-width="0.7"/>
<line x1="386.3" y1="118.1" x2="386.3" y2="119.39999999999999" stroke="#8a8a8a" stroke-width="0.7"/>
<line x1="387.9" y1="118.1" x2="387.9" y2="119.39999999999999" stroke="#8a8a8a" stroke-width="0.7"/>
<line x1="389.3" y1="118.1" x2="389.3" y2="119.39999999999999" stroke="#8a8a8a" stroke-width="0.7"/>
<line x1="390.4" y1="118.1" x2="390.4" y2="119.39999999999999" stroke="#8a8a8a" stroke-width="0.7"/>
<line x1="391.4" y1="118.1" x2="391.4" y2="119.39999999999999" stroke="#8a8a8a" stroke-width="0.7"/>
<line x1="392.2" y1="118.1" x2="392.2" y2="119.39999999999999" stroke="#8a8a8a" stroke-width="0.7"/>
<line x1="398.1" y1="118.1" x2="398.1" y2="119.39999999999999" stroke="#8a8a8a" stroke-width="0.7"/>
<line x1="401.1" y1="118.1" x2="401.1" y2="119.39999999999999" stroke="#8a8a8a" stroke-width="0.7"/>
<line x1="403.2" y1="118.1" x2="403.2" y2="119.39999999999999" stroke="#8a8a8a" stroke-width="0.7"/>
<line x1="404.8" y1="118.1" x2="404.8" y2="119.39999999999999" stroke="#8a8a8a" stroke-width="0.7"/>
<line x1="406.2" y1="118.1" x2="406.2" y2="119.39999999999999" stroke="#8a8a8a" stroke-width="0.7"/>
<line x1="407.3" y1="118.1" x2="407.3" y2="119.39999999999999" stroke="#8a8a8a" stroke-width="0.7"/>
<line x1="408.3" y1="118.1" x2="408.3" y2="119.39999999999999" stroke="#8a8a8a" stroke-width="0.7"/>
<line x1="409.1" y1="118.1" x2="409.1" y2="119.39999999999999" stroke="#8a8a8a" stroke-width="0.7"/>
<line x1="415.0" y1="118.1" x2="415.0" y2="119.39999999999999" stroke="#8a8a8a" stroke-width="0.7"/>
<rect x="422.8" y="38.4" width="89.6" height="79.7" fill="none" stroke="#a0a0a0" stroke-width="1"/>
<path d="M422.8 38.4V118.1H512.4" fill="none" stroke="#7a7a7a" stroke-width="1"/>
<line x1="420.40000000000003" y1="44.4" x2="422.8" y2="44.4" stroke="#555" stroke-width="1.2"/>
<line x1="420.40000000000003" y1="59.1" x2="422.8" y2="59.1" stroke="#555" stroke-width="1.2"/>
<line x1="420.40000000000003" y1="73.8" x2="422.8" y2="73.8" stroke="#555" stroke-width="1.2"/>
<line x1="420.40000000000003" y1="88.5" x2="422.8" y2="88.5" stroke="#555" stroke-width="1.2"/>
<line x1="420.40000000000003" y1="103.2" x2="422.8" y2="103.2" stroke="#555" stroke-width="1.2"/>
<line x1="421.5" y1="40.0" x2="422.8" y2="40.0" stroke="#8a8a8a" stroke-width="0.7"/>
<line x1="421.5" y1="54.7" x2="422.8" y2="54.7" stroke="#8a8a8a" stroke-width="0.7"/>
<line x1="421.5" y1="52.1" x2="422.8" y2="52.1" stroke="#8a8a8a" stroke-width="0.7"/>
<line x1="421.5" y1="50.2" x2="422.8" y2="50.2" stroke="#8a8a8a" stroke-width="0.7"/>
<line x1="421.5" y1="48.8" x2="422.8" y2="48.8" stroke="#8a8a8a" stroke-width="0.7"/>
<line x1="421.5" y1="47.7" x2="422.8" y2="47.7" stroke="#8a8a8a" stroke-width="0.7"/>
<line x1="421.5" y1="46.7" x2="422.8" y2="46.7" stroke="#8a8a8a" stroke-width="0.7"/>
<line x1="421.5" y1="45.8" x2="422.8" y2="45.8" stroke="#8a8a8a" stroke-width="0.7"/>
<line x1="421.5" y1="45.1" x2="422.8" y2="45.1" stroke="#8a8a8a" stroke-width="0.7"/>
<line x1="421.5" y1="69.4" x2="422.8" y2="69.4" stroke="#8a8a8a" stroke-width="0.7"/>
<line x1="421.5" y1="66.8" x2="422.8" y2="66.8" stroke="#8a8a8a" stroke-width="0.7"/>
<line x1="421.5" y1="64.9" x2="422.8" y2="64.9" stroke="#8a8a8a" stroke-width="0.7"/>
<line x1="421.5" y1="63.5" x2="422.8" y2="63.5" stroke="#8a8a8a" stroke-width="0.7"/>
<line x1="421.5" y1="62.4" x2="422.8" y2="62.4" stroke="#8a8a8a" stroke-width="0.7"/>
<line x1="421.5" y1="61.4" x2="422.8" y2="61.4" stroke="#8a8a8a" stroke-width="0.7"/>
<line x1="421.5" y1="60.5" x2="422.8" y2="60.5" stroke="#8a8a8a" stroke-width="0.7"/>
<line x1="421.5" y1="59.8" x2="422.8" y2="59.8" stroke="#8a8a8a" stroke-width="0.7"/>
<line x1="421.5" y1="84.1" x2="422.8" y2="84.1" stroke="#8a8a8a" stroke-width="0.7"/>
<line x1="421.5" y1="81.5" x2="422.8" y2="81.5" stroke="#8a8a8a" stroke-width="0.7"/>
<line x1="421.5" y1="79.6" x2="422.8" y2="79.6" stroke="#8a8a8a" stroke-width="0.7"/>
<line x1="421.5" y1="78.2" x2="422.8" y2="78.2" stroke="#8a8a8a" stroke-width="0.7"/>
<line x1="421.5" y1="77.1" x2="422.8" y2="77.1" stroke="#8a8a8a" stroke-width="0.7"/>
<line x1="421.5" y1="76.1" x2="422.8" y2="76.1" stroke="#8a8a8a" stroke-width="0.7"/>
<line x1="421.5" y1="75.2" x2="422.8" y2="75.2" stroke="#8a8a8a" stroke-width="0.7"/>
<line x1="421.5" y1="74.5" x2="422.8" y2="74.5" stroke="#8a8a8a" stroke-width="0.7"/>
<line x1="421.5" y1="98.8" x2="422.8" y2="98.8" stroke="#8a8a8a" stroke-width="0.7"/>
<line x1="421.5" y1="96.2" x2="422.8" y2="96.2" stroke="#8a8a8a" stroke-width="0.7"/>
<line x1="421.5" y1="94.3" x2="422.8" y2="94.3" stroke="#8a8a8a" stroke-width="0.7"/>
<line x1="421.5" y1="92.9" x2="422.8" y2="92.9" stroke="#8a8a8a" stroke-width="0.7"/>
<line x1="421.5" y1="91.8" x2="422.8" y2="91.8" stroke="#8a8a8a" stroke-width="0.7"/>
<line x1="421.5" y1="90.8" x2="422.8" y2="90.8" stroke="#8a8a8a" stroke-width="0.7"/>
<line x1="421.5" y1="89.9" x2="422.8" y2="89.9" stroke="#8a8a8a" stroke-width="0.7"/>
<line x1="421.5" y1="89.2" x2="422.8" y2="89.2" stroke="#8a8a8a" stroke-width="0.7"/>
<line x1="421.5" y1="113.5" x2="422.8" y2="113.5" stroke="#8a8a8a" stroke-width="0.7"/>
<line x1="421.5" y1="110.9" x2="422.8" y2="110.9" stroke="#8a8a8a" stroke-width="0.7"/>
<line x1="421.5" y1="109.0" x2="422.8" y2="109.0" stroke="#8a8a8a" stroke-width="0.7"/>
<line x1="421.5" y1="107.6" x2="422.8" y2="107.6" stroke="#8a8a8a" stroke-width="0.7"/>
<line x1="421.5" y1="106.5" x2="422.8" y2="106.5" stroke="#8a8a8a" stroke-width="0.7"/>
<line x1="421.5" y1="105.5" x2="422.8" y2="105.5" stroke="#8a8a8a" stroke-width="0.7"/>
<line x1="421.5" y1="104.6" x2="422.8" y2="104.6" stroke="#8a8a8a" stroke-width="0.7"/>
<line x1="421.5" y1="103.9" x2="422.8" y2="103.9" stroke="#8a8a8a" stroke-width="0.7"/>
<line x1="438.8" y1="118.1" x2="438.8" y2="120.5" stroke="#555" stroke-width="1.2"/>
<line x1="455.7" y1="118.1" x2="455.7" y2="120.5" stroke="#555" stroke-width="1.2"/>
<line x1="472.6" y1="118.1" x2="472.6" y2="120.5" stroke="#555" stroke-width="1.2"/>
<line x1="489.5" y1="118.1" x2="489.5" y2="120.5" stroke="#555" stroke-width="1.2"/>
<line x1="506.4" y1="118.1" x2="506.4" y2="120.5" stroke="#555" stroke-width="1.2"/>
<line x1="427.0" y1="118.1" x2="427.0" y2="119.39999999999999" stroke="#8a8a8a" stroke-width="0.7"/>
<line x1="430.0" y1="118.1" x2="430.0" y2="119.39999999999999" stroke="#8a8a8a" stroke-width="0.7"/>
<line x1="432.1" y1="118.1" x2="432.1" y2="119.39999999999999" stroke="#8a8a8a" stroke-width="0.7"/>
<line x1="433.7" y1="118.1" x2="433.7" y2="119.39999999999999" stroke="#8a8a8a" stroke-width="0.7"/>
<line x1="435.1" y1="118.1" x2="435.1" y2="119.39999999999999" stroke="#8a8a8a" stroke-width="0.7"/>
<line x1="436.2" y1="118.1" x2="436.2" y2="119.39999999999999" stroke="#8a8a8a" stroke-width="0.7"/>
<line x1="437.2" y1="118.1" x2="437.2" y2="119.39999999999999" stroke="#8a8a8a" stroke-width="0.7"/>
<line x1="438.0" y1="118.1" x2="438.0" y2="119.39999999999999" stroke="#8a8a8a" stroke-width="0.7"/>
<line x1="443.9" y1="118.1" x2="443.9" y2="119.39999999999999" stroke="#8a8a8a" stroke-width="0.7"/>
<line x1="446.9" y1="118.1" x2="446.9" y2="119.39999999999999" stroke="#8a8a8a" stroke-width="0.7"/>
<line x1="449.0" y1="118.1" x2="449.0" y2="119.39999999999999" stroke="#8a8a8a" stroke-width="0.7"/>
<line x1="450.6" y1="118.1" x2="450.6" y2="119.39999999999999" stroke="#8a8a8a" stroke-width="0.7"/>
<line x1="452.0" y1="118.1" x2="452.0" y2="119.39999999999999" stroke="#8a8a8a" stroke-width="0.7"/>
<line x1="453.1" y1="118.1" x2="453.1" y2="119.39999999999999" stroke="#8a8a8a" stroke-width="0.7"/>
<line x1="454.1" y1="118.1" x2="454.1" y2="119.39999999999999" stroke="#8a8a8a" stroke-width="0.7"/>
<line x1="454.9" y1="118.1" x2="454.9" y2="119.39999999999999" stroke="#8a8a8a" stroke-width="0.7"/>
<line x1="460.8" y1="118.1" x2="460.8" y2="119.39999999999999" stroke="#8a8a8a" stroke-width="0.7"/>
<line x1="463.8" y1="118.1" x2="463.8" y2="119.39999999999999" stroke="#8a8a8a" stroke-width="0.7"/>
<line x1="465.9" y1="118.1" x2="465.9" y2="119.39999999999999" stroke="#8a8a8a" stroke-width="0.7"/>
<line x1="467.5" y1="118.1" x2="467.5" y2="119.39999999999999" stroke="#8a8a8a" stroke-width="0.7"/>
<line x1="468.9" y1="118.1" x2="468.9" y2="119.39999999999999" stroke="#8a8a8a" stroke-width="0.7"/>
<line x1="470.0" y1="118.1" x2="470.0" y2="119.39999999999999" stroke="#8a8a8a" stroke-width="0.7"/>
<line x1="471.0" y1="118.1" x2="471.0" y2="119.39999999999999" stroke="#8a8a8a" stroke-width="0.7"/>
<line x1="471.8" y1="118.1" x2="471.8" y2="119.39999999999999" stroke="#8a8a8a" stroke-width="0.7"/>
<line x1="477.7" y1="118.1" x2="477.7" y2="119.39999999999999" stroke="#8a8a8a" stroke-width="0.7"/>
<line x1="480.7" y1="118.1" x2="480.7" y2="119.39999999999999" stroke="#8a8a8a" stroke-width="0.7"/>
<line x1="482.8" y1="118.1" x2="482.8" y2="119.39999999999999" stroke="#8a8a8a" stroke-width="0.7"/>
<line x1="484.4" y1="118.1" x2="484.4" y2="119.39999999999999" stroke="#8a8a8a" stroke-width="0.7"/>
<line x1="485.8" y1="118.1" x2="485.8" y2="119.39999999999999" stroke="#8a8a8a" stroke-width="0.7"/>
<line x1="486.9" y1="118.1" x2="486.9" y2="119.39999999999999" stroke="#8a8a8a" stroke-width="0.7"/>
<line x1="487.9" y1="118.1" x2="487.9" y2="119.39999999999999" stroke="#8a8a8a" stroke-width="0.7"/>
<line x1="488.7" y1="118.1" x2="488.7" y2="119.39999999999999" stroke="#8a8a8a" stroke-width="0.7"/>
<line x1="494.6" y1="118.1" x2="494.6" y2="119.39999999999999" stroke="#8a8a8a" stroke-width="0.7"/>
<line x1="497.6" y1="118.1" x2="497.6" y2="119.39999999999999" stroke="#8a8a8a" stroke-width="0.7"/>
<line x1="499.7" y1="118.1" x2="499.7" y2="119.39999999999999" stroke="#8a8a8a" stroke-width="0.7"/>
<line x1="501.3" y1="118.1" x2="501.3" y2="119.39999999999999" stroke="#8a8a8a" stroke-width="0.7"/>
<line x1="502.7" y1="118.1" x2="502.7" y2="119.39999999999999" stroke="#8a8a8a" stroke-width="0.7"/>
<line x1="503.8" y1="118.1" x2="503.8" y2="119.39999999999999" stroke="#8a8a8a" stroke-width="0.7"/>
<line x1="504.8" y1="118.1" x2="504.8" y2="119.39999999999999" stroke="#8a8a8a" stroke-width="0.7"/>
<line x1="505.6" y1="118.1" x2="505.6" y2="119.39999999999999" stroke="#8a8a8a" stroke-width="0.7"/>
<line x1="511.5" y1="118.1" x2="511.5" y2="119.39999999999999" stroke="#8a8a8a" stroke-width="0.7"/>
<rect x="35.25" y="148.3" width="91.2" height="79.6" fill="none" stroke="#a0a0a0" stroke-width="1"/>
<path d="M35.25 148.3V227.9H126.5" fill="none" stroke="#7a7a7a" stroke-width="1"/>
<line x1="32.85" y1="154.3" x2="35.25" y2="154.3" stroke="#555" stroke-width="1.2"/>
<line x1="32.85" y1="169.0" x2="35.25" y2="169.0" stroke="#555" stroke-width="1.2"/>
<line x1="32.85" y1="183.7" x2="35.25" y2="183.7" stroke="#555" stroke-width="1.2"/>
<line x1="32.85" y1="198.4" x2="35.25" y2="198.4" stroke="#555" stroke-width="1.2"/>
<line x1="32.85" y1="213.1" x2="35.25" y2="213.1" stroke="#555" stroke-width="1.2"/>
<line x1="33.95" y1="149.9" x2="35.25" y2="149.9" stroke="#8a8a8a" stroke-width="0.7"/>
<line x1="33.95" y1="164.6" x2="35.25" y2="164.6" stroke="#8a8a8a" stroke-width="0.7"/>
<line x1="33.95" y1="162.0" x2="35.25" y2="162.0" stroke="#8a8a8a" stroke-width="0.7"/>
<line x1="33.95" y1="160.1" x2="35.25" y2="160.1" stroke="#8a8a8a" stroke-width="0.7"/>
<line x1="33.95" y1="158.7" x2="35.25" y2="158.7" stroke="#8a8a8a" stroke-width="0.7"/>
<line x1="33.95" y1="157.6" x2="35.25" y2="157.6" stroke="#8a8a8a" stroke-width="0.7"/>
<line x1="33.95" y1="156.6" x2="35.25" y2="156.6" stroke="#8a8a8a" stroke-width="0.7"/>
<line x1="33.95" y1="155.7" x2="35.25" y2="155.7" stroke="#8a8a8a" stroke-width="0.7"/>
<line x1="33.95" y1="155.0" x2="35.25" y2="155.0" stroke="#8a8a8a" stroke-width="0.7"/>
<line x1="33.95" y1="179.3" x2="35.25" y2="179.3" stroke="#8a8a8a" stroke-width="0.7"/>
<line x1="33.95" y1="176.7" x2="35.25" y2="176.7" stroke="#8a8a8a" stroke-width="0.7"/>
<line x1="33.95" y1="174.8" x2="35.25" y2="174.8" stroke="#8a8a8a" stroke-width="0.7"/>
<line x1="33.95" y1="173.4" x2="35.25" y2="173.4" stroke="#8a8a8a" stroke-width="0.7"/>
<line x1="33.95" y1="172.3" x2="35.25" y2="172.3" stroke="#8a8a8a" stroke-width="0.7"/>
<line x1="33.95" y1="171.3" x2="35.25" y2="171.3" stroke="#8a8a8a" stroke-width="0.7"/>
<line x1="33.95" y1="170.4" x2="35.25" y2="170.4" stroke="#8a8a8a" stroke-width="0.7"/>
<line x1="33.95" y1="169.7" x2="35.25" y2="169.7" stroke="#8a8a8a" stroke-width="0.7"/>
<line x1="33.95" y1="194.0" x2="35.25" y2="194.0" stroke="#8a8a8a" stroke-width="0.7"/>
<line x1="33.95" y1="191.4" x2="35.25" y2="191.4" stroke="#8a8a8a" stroke-width="0.7"/>
<line x1="33.95" y1="189.5" x2="35.25" y2="189.5" stroke="#8a8a8a" stroke-width="0.7"/>
<line x1="33.95" y1="188.1" x2="35.25" y2="188.1" stroke="#8a8a8a" stroke-width="0.7"/>
<line x1="33.95" y1="187.0" x2="35.25" y2="187.0" stroke="#8a8a8a" stroke-width="0.7"/>
<line x1="33.95" y1="186.0" x2="35.25" y2="186.0" stroke="#8a8a8a" stroke-width="0.7"/>
<line x1="33.95" y1="185.1" x2="35.25" y2="185.1" stroke="#8a8a8a" stroke-width="0.7"/>
<line x1="33.95" y1="184.4" x2="35.25" y2="184.4" stroke="#8a8a8a" stroke-width="0.7"/>
<line x1="33.95" y1="208.7" x2="35.25" y2="208.7" stroke="#8a8a8a" stroke-width="0.7"/>
<line x1="33.95" y1="206.1" x2="35.25" y2="206.1" stroke="#8a8a8a" stroke-width="0.7"/>
<line x1="33.95" y1="204.2" x2="35.25" y2="204.2" stroke="#8a8a8a" stroke-width="0.7"/>
<line x1="33.95" y1="202.8" x2="35.25" y2="202.8" stroke="#8a8a8a" stroke-width="0.7"/>
<line x1="33.95" y1="201.7" x2="35.25" y2="201.7" stroke="#8a8a8a" stroke-width="0.7"/>
<line x1="33.95" y1="200.7" x2="35.25" y2="200.7" stroke="#8a8a8a" stroke-width="0.7"/>
<line x1="33.95" y1="199.8" x2="35.25" y2="199.8" stroke="#8a8a8a" stroke-width="0.7"/>
<line x1="33.95" y1="199.1" x2="35.25" y2="199.1" stroke="#8a8a8a" stroke-width="0.7"/>
<line x1="33.95" y1="223.4" x2="35.25" y2="223.4" stroke="#8a8a8a" stroke-width="0.7"/>
<line x1="33.95" y1="220.8" x2="35.25" y2="220.8" stroke="#8a8a8a" stroke-width="0.7"/>
<line x1="33.95" y1="218.9" x2="35.25" y2="218.9" stroke="#8a8a8a" stroke-width="0.7"/>
<line x1="33.95" y1="217.5" x2="35.25" y2="217.5" stroke="#8a8a8a" stroke-width="0.7"/>
<line x1="33.95" y1="216.4" x2="35.25" y2="216.4" stroke="#8a8a8a" stroke-width="0.7"/>
<line x1="33.95" y1="215.4" x2="35.25" y2="215.4" stroke="#8a8a8a" stroke-width="0.7"/>
<line x1="33.95" y1="214.5" x2="35.25" y2="214.5" stroke="#8a8a8a" stroke-width="0.7"/>
<line x1="33.95" y1="213.8" x2="35.25" y2="213.8" stroke="#8a8a8a" stroke-width="0.7"/>
<line x1="51.2" y1="227.9" x2="51.2" y2="230.3" stroke="#555" stroke-width="1.2"/>
<line x1="68.2" y1="227.9" x2="68.2" y2="230.3" stroke="#555" stroke-width="1.2"/>
<line x1="85.0" y1="227.9" x2="85.0" y2="230.3" stroke="#555" stroke-width="1.2"/>
<line x1="101.9" y1="227.9" x2="101.9" y2="230.3" stroke="#555" stroke-width="1.2"/>
<line x1="118.8" y1="227.9" x2="118.8" y2="230.3" stroke="#555" stroke-width="1.2"/>
<line x1="39.4" y1="227.9" x2="39.4" y2="229.20000000000002" stroke="#8a8a8a" stroke-width="0.7"/>
<line x1="42.4" y1="227.9" x2="42.4" y2="229.20000000000002" stroke="#8a8a8a" stroke-width="0.7"/>
<line x1="44.5" y1="227.9" x2="44.5" y2="229.20000000000002" stroke="#8a8a8a" stroke-width="0.7"/>
<line x1="46.2" y1="227.9" x2="46.2" y2="229.20000000000002" stroke="#8a8a8a" stroke-width="0.7"/>
<line x1="47.5" y1="227.9" x2="47.5" y2="229.20000000000002" stroke="#8a8a8a" stroke-width="0.7"/>
<line x1="48.6" y1="227.9" x2="48.6" y2="229.20000000000002" stroke="#8a8a8a" stroke-width="0.7"/>
<line x1="49.6" y1="227.9" x2="49.6" y2="229.20000000000002" stroke="#8a8a8a" stroke-width="0.7"/>
<line x1="50.5" y1="227.9" x2="50.5" y2="229.20000000000002" stroke="#8a8a8a" stroke-width="0.7"/>
<line x1="56.3" y1="227.9" x2="56.3" y2="229.20000000000002" stroke="#8a8a8a" stroke-width="0.7"/>
<line x1="59.3" y1="227.9" x2="59.3" y2="229.20000000000002" stroke="#8a8a8a" stroke-width="0.7"/>
<line x1="61.4" y1="227.9" x2="61.4" y2="229.20000000000002" stroke="#8a8a8a" stroke-width="0.7"/>
<line x1="63.1" y1="227.9" x2="63.1" y2="229.20000000000002" stroke="#8a8a8a" stroke-width="0.7"/>
<line x1="64.4" y1="227.9" x2="64.4" y2="229.20000000000002" stroke="#8a8a8a" stroke-width="0.7"/>
<line x1="65.5" y1="227.9" x2="65.5" y2="229.20000000000002" stroke="#8a8a8a" stroke-width="0.7"/>
<line x1="66.5" y1="227.9" x2="66.5" y2="229.20000000000002" stroke="#8a8a8a" stroke-width="0.7"/>
<line x1="67.4" y1="227.9" x2="67.4" y2="229.20000000000002" stroke="#8a8a8a" stroke-width="0.7"/>
<line x1="73.2" y1="227.9" x2="73.2" y2="229.20000000000002" stroke="#8a8a8a" stroke-width="0.7"/>
<line x1="76.2" y1="227.9" x2="76.2" y2="229.20000000000002" stroke="#8a8a8a" stroke-width="0.7"/>
<line x1="78.3" y1="227.9" x2="78.3" y2="229.20000000000002" stroke="#8a8a8a" stroke-width="0.7"/>
<line x1="80.0" y1="227.9" x2="80.0" y2="229.20000000000002" stroke="#8a8a8a" stroke-width="0.7"/>
<line x1="81.3" y1="227.9" x2="81.3" y2="229.20000000000002" stroke="#8a8a8a" stroke-width="0.7"/>
<line x1="82.4" y1="227.9" x2="82.4" y2="229.20000000000002" stroke="#8a8a8a" stroke-width="0.7"/>
<line x1="83.4" y1="227.9" x2="83.4" y2="229.20000000000002" stroke="#8a8a8a" stroke-width="0.7"/>
<line x1="84.3" y1="227.9" x2="84.3" y2="229.20000000000002" stroke="#8a8a8a" stroke-width="0.7"/>
<line x1="90.1" y1="227.9" x2="90.1" y2="229.20000000000002" stroke="#8a8a8a" stroke-width="0.7"/>
<line x1="93.1" y1="227.9" x2="93.1" y2="229.20000000000002" stroke="#8a8a8a" stroke-width="0.7"/>
<line x1="95.2" y1="227.9" x2="95.2" y2="229.20000000000002" stroke="#8a8a8a" stroke-width="0.7"/>
<line x1="96.9" y1="227.9" x2="96.9" y2="229.20000000000002" stroke="#8a8a8a" stroke-width="0.7"/>
<line x1="98.2" y1="227.9" x2="98.2" y2="229.20000000000002" stroke="#8a8a8a" stroke-width="0.7"/>
<line x1="99.3" y1="227.9" x2="99.3" y2="229.20000000000002" stroke="#8a8a8a" stroke-width="0.7"/>
<line x1="100.3" y1="227.9" x2="100.3" y2="229.20000000000002" stroke="#8a8a8a" stroke-width="0.7"/>
<line x1="101.2" y1="227.9" x2="101.2" y2="229.20000000000002" stroke="#8a8a8a" stroke-width="0.7"/>
<line x1="107.0" y1="227.9" x2="107.0" y2="229.20000000000002" stroke="#8a8a8a" stroke-width="0.7"/>
<line x1="110.0" y1="227.9" x2="110.0" y2="229.20000000000002" stroke="#8a8a8a" stroke-width="0.7"/>
<line x1="112.1" y1="227.9" x2="112.1" y2="229.20000000000002" stroke="#8a8a8a" stroke-width="0.7"/>
<line x1="113.8" y1="227.9" x2="113.8" y2="229.20000000000002" stroke="#8a8a8a" stroke-width="0.7"/>
<line x1="115.1" y1="227.9" x2="115.1" y2="229.20000000000002" stroke="#8a8a8a" stroke-width="0.7"/>
<line x1="116.2" y1="227.9" x2="116.2" y2="229.20000000000002" stroke="#8a8a8a" stroke-width="0.7"/>
<line x1="117.2" y1="227.9" x2="117.2" y2="229.20000000000002" stroke="#8a8a8a" stroke-width="0.7"/>
<line x1="118.1" y1="227.9" x2="118.1" y2="229.20000000000002" stroke="#8a8a8a" stroke-width="0.7"/>
<line x1="123.9" y1="227.9" x2="123.9" y2="229.20000000000002" stroke="#8a8a8a" stroke-width="0.7"/>
<rect x="133.5" y="148.3" width="91.0" height="79.6" fill="none" stroke="#a0a0a0" stroke-width="1"/>
<path d="M133.5 148.3V227.9H224.5" fill="none" stroke="#7a7a7a" stroke-width="1"/>
<line x1="131.1" y1="154.3" x2="133.5" y2="154.3" stroke="#555" stroke-width="1.2"/>
<line x1="131.1" y1="169.0" x2="133.5" y2="169.0" stroke="#555" stroke-width="1.2"/>
<line x1="131.1" y1="183.7" x2="133.5" y2="183.7" stroke="#555" stroke-width="1.2"/>
<line x1="131.1" y1="198.4" x2="133.5" y2="198.4" stroke="#555" stroke-width="1.2"/>
<line x1="131.1" y1="213.1" x2="133.5" y2="213.1" stroke="#555" stroke-width="1.2"/>
<line x1="132.2" y1="149.9" x2="133.5" y2="149.9" stroke="#8a8a8a" stroke-width="0.7"/>
<line x1="132.2" y1="164.6" x2="133.5" y2="164.6" stroke="#8a8a8a" stroke-width="0.7"/>
<line x1="132.2" y1="162.0" x2="133.5" y2="162.0" stroke="#8a8a8a" stroke-width="0.7"/>
<line x1="132.2" y1="160.1" x2="133.5" y2="160.1" stroke="#8a8a8a" stroke-width="0.7"/>
<line x1="132.2" y1="158.7" x2="133.5" y2="158.7" stroke="#8a8a8a" stroke-width="0.7"/>
<line x1="132.2" y1="157.6" x2="133.5" y2="157.6" stroke="#8a8a8a" stroke-width="0.7"/>
<line x1="132.2" y1="156.6" x2="133.5" y2="156.6" stroke="#8a8a8a" stroke-width="0.7"/>
<line x1="132.2" y1="155.7" x2="133.5" y2="155.7" stroke="#8a8a8a" stroke-width="0.7"/>
<line x1="132.2" y1="155.0" x2="133.5" y2="155.0" stroke="#8a8a8a" stroke-width="0.7"/>
<line x1="132.2" y1="179.3" x2="133.5" y2="179.3" stroke="#8a8a8a" stroke-width="0.7"/>
<line x1="132.2" y1="176.7" x2="133.5" y2="176.7" stroke="#8a8a8a" stroke-width="0.7"/>
<line x1="132.2" y1="174.8" x2="133.5" y2="174.8" stroke="#8a8a8a" stroke-width="0.7"/>
<line x1="132.2" y1="173.4" x2="133.5" y2="173.4" stroke="#8a8a8a" stroke-width="0.7"/>
<line x1="132.2" y1="172.3" x2="133.5" y2="172.3" stroke="#8a8a8a" stroke-width="0.7"/>
<line x1="132.2" y1="171.3" x2="133.5" y2="171.3" stroke="#8a8a8a" stroke-width="0.7"/>
<line x1="132.2" y1="170.4" x2="133.5" y2="170.4" stroke="#8a8a8a" stroke-width="0.7"/>
<line x1="132.2" y1="169.7" x2="133.5" y2="169.7" stroke="#8a8a8a" stroke-width="0.7"/>
<line x1="132.2" y1="194.0" x2="133.5" y2="194.0" stroke="#8a8a8a" stroke-width="0.7"/>
<line x1="132.2" y1="191.4" x2="133.5" y2="191.4" stroke="#8a8a8a" stroke-width="0.7"/>
<line x1="132.2" y1="189.5" x2="133.5" y2="189.5" stroke="#8a8a8a" stroke-width="0.7"/>
<line x1="132.2" y1="188.1" x2="133.5" y2="188.1" stroke="#8a8a8a" stroke-width="0.7"/>
<line x1="132.2" y1="187.0" x2="133.5" y2="187.0" stroke="#8a8a8a" stroke-width="0.7"/>
<line x1="132.2" y1="186.0" x2="133.5" y2="186.0" stroke="#8a8a8a" stroke-width="0.7"/>
<line x1="132.2" y1="185.1" x2="133.5" y2="185.1" stroke="#8a8a8a" stroke-width="0.7"/>
<line x1="132.2" y1="184.4" x2="133.5" y2="184.4" stroke="#8a8a8a" stroke-width="0.7"/>
<line x1="132.2" y1="208.7" x2="133.5" y2="208.7" stroke="#8a8a8a" stroke-width="0.7"/>
<line x1="132.2" y1="206.1" x2="133.5" y2="206.1" stroke="#8a8a8a" stroke-width="0.7"/>
<line x1="132.2" y1="204.2" x2="133.5" y2="204.2" stroke="#8a8a8a" stroke-width="0.7"/>
<line x1="132.2" y1="202.8" x2="133.5" y2="202.8" stroke="#8a8a8a" stroke-width="0.7"/>
<line x1="132.2" y1="201.7" x2="133.5" y2="201.7" stroke="#8a8a8a" stroke-width="0.7"/>
<line x1="132.2" y1="200.7" x2="133.5" y2="200.7" stroke="#8a8a8a" stroke-width="0.7"/>
<line x1="132.2" y1="199.8" x2="133.5" y2="199.8" stroke="#8a8a8a" stroke-width="0.7"/>
<line x1="132.2" y1="199.1" x2="133.5" y2="199.1" stroke="#8a8a8a" stroke-width="0.7"/>
<line x1="132.2" y1="223.4" x2="133.5" y2="223.4" stroke="#8a8a8a" stroke-width="0.7"/>
<line x1="132.2" y1="220.8" x2="133.5" y2="220.8" stroke="#8a8a8a" stroke-width="0.7"/>
<line x1="132.2" y1="218.9" x2="133.5" y2="218.9" stroke="#8a8a8a" stroke-width="0.7"/>
<line x1="132.2" y1="217.5" x2="133.5" y2="217.5" stroke="#8a8a8a" stroke-width="0.7"/>
<line x1="132.2" y1="216.4" x2="133.5" y2="216.4" stroke="#8a8a8a" stroke-width="0.7"/>
<line x1="132.2" y1="215.4" x2="133.5" y2="215.4" stroke="#8a8a8a" stroke-width="0.7"/>
<line x1="132.2" y1="214.5" x2="133.5" y2="214.5" stroke="#8a8a8a" stroke-width="0.7"/>
<line x1="132.2" y1="213.8" x2="133.5" y2="213.8" stroke="#8a8a8a" stroke-width="0.7"/>
<line x1="149.5" y1="227.9" x2="149.5" y2="230.3" stroke="#555" stroke-width="1.2"/>
<line x1="166.4" y1="227.9" x2="166.4" y2="230.3" stroke="#555" stroke-width="1.2"/>
<line x1="183.3" y1="227.9" x2="183.3" y2="230.3" stroke="#555" stroke-width="1.2"/>
<line x1="200.2" y1="227.9" x2="200.2" y2="230.3" stroke="#555" stroke-width="1.2"/>
<line x1="217.1" y1="227.9" x2="217.1" y2="230.3" stroke="#555" stroke-width="1.2"/>
<line x1="137.7" y1="227.9" x2="137.7" y2="229.20000000000002" stroke="#8a8a8a" stroke-width="0.7"/>
<line x1="140.7" y1="227.9" x2="140.7" y2="229.20000000000002" stroke="#8a8a8a" stroke-width="0.7"/>
<line x1="142.8" y1="227.9" x2="142.8" y2="229.20000000000002" stroke="#8a8a8a" stroke-width="0.7"/>
<line x1="144.4" y1="227.9" x2="144.4" y2="229.20000000000002" stroke="#8a8a8a" stroke-width="0.7"/>
<line x1="145.8" y1="227.9" x2="145.8" y2="229.20000000000002" stroke="#8a8a8a" stroke-width="0.7"/>
<line x1="146.9" y1="227.9" x2="146.9" y2="229.20000000000002" stroke="#8a8a8a" stroke-width="0.7"/>
<line x1="147.9" y1="227.9" x2="147.9" y2="229.20000000000002" stroke="#8a8a8a" stroke-width="0.7"/>
<line x1="148.7" y1="227.9" x2="148.7" y2="229.20000000000002" stroke="#8a8a8a" stroke-width="0.7"/>
<line x1="154.6" y1="227.9" x2="154.6" y2="229.20000000000002" stroke="#8a8a8a" stroke-width="0.7"/>
<line x1="157.6" y1="227.9" x2="157.6" y2="229.20000000000002" stroke="#8a8a8a" stroke-width="0.7"/>
<line x1="159.7" y1="227.9" x2="159.7" y2="229.20000000000002" stroke="#8a8a8a" stroke-width="0.7"/>
<line x1="161.3" y1="227.9" x2="161.3" y2="229.20000000000002" stroke="#8a8a8a" stroke-width="0.7"/>
<line x1="162.7" y1="227.9" x2="162.7" y2="229.20000000000002" stroke="#8a8a8a" stroke-width="0.7"/>
<line x1="163.8" y1="227.9" x2="163.8" y2="229.20000000000002" stroke="#8a8a8a" stroke-width="0.7"/>
<line x1="164.8" y1="227.9" x2="164.8" y2="229.20000000000002" stroke="#8a8a8a" stroke-width="0.7"/>
<line x1="165.6" y1="227.9" x2="165.6" y2="229.20000000000002" stroke="#8a8a8a" stroke-width="0.7"/>
<line x1="171.5" y1="227.9" x2="171.5" y2="229.20000000000002" stroke="#8a8a8a" stroke-width="0.7"/>
<line x1="174.5" y1="227.9" x2="174.5" y2="229.20000000000002" stroke="#8a8a8a" stroke-width="0.7"/>
<line x1="176.6" y1="227.9" x2="176.6" y2="229.20000000000002" stroke="#8a8a8a" stroke-width="0.7"/>
<line x1="178.2" y1="227.9" x2="178.2" y2="229.20000000000002" stroke="#8a8a8a" stroke-width="0.7"/>
<line x1="179.6" y1="227.9" x2="179.6" y2="229.20000000000002" stroke="#8a8a8a" stroke-width="0.7"/>
<line x1="180.7" y1="227.9" x2="180.7" y2="229.20000000000002" stroke="#8a8a8a" stroke-width="0.7"/>
<line x1="181.7" y1="227.9" x2="181.7" y2="229.20000000000002" stroke="#8a8a8a" stroke-width="0.7"/>
<line x1="182.5" y1="227.9" x2="182.5" y2="229.20000000000002" stroke="#8a8a8a" stroke-width="0.7"/>
<line x1="188.4" y1="227.9" x2="188.4" y2="229.20000000000002" stroke="#8a8a8a" stroke-width="0.7"/>
<line x1="191.4" y1="227.9" x2="191.4" y2="229.20000000000002" stroke="#8a8a8a" stroke-width="0.7"/>
<line x1="193.5" y1="227.9" x2="193.5" y2="229.20000000000002" stroke="#8a8a8a" stroke-width="0.7"/>
<line x1="195.1" y1="227.9" x2="195.1" y2="229.20000000000002" stroke="#8a8a8a" stroke-width="0.7"/>
<line x1="196.5" y1="227.9" x2="196.5" y2="229.20000000000002" stroke="#8a8a8a" stroke-width="0.7"/>
<line x1="197.6" y1="227.9" x2="197.6" y2="229.20000000000002" stroke="#8a8a8a" stroke-width="0.7"/>
<line x1="198.6" y1="227.9" x2="198.6" y2="229.20000000000002" stroke="#8a8a8a" stroke-width="0.7"/>
<line x1="199.4" y1="227.9" x2="199.4" y2="229.20000000000002" stroke="#8a8a8a" stroke-width="0.7"/>
<line x1="205.3" y1="227.9" x2="205.3" y2="229.20000000000002" stroke="#8a8a8a" stroke-width="0.7"/>
<line x1="208.3" y1="227.9" x2="208.3" y2="229.20000000000002" stroke="#8a8a8a" stroke-width="0.7"/>
<line x1="210.4" y1="227.9" x2="210.4" y2="229.20000000000002" stroke="#8a8a8a" stroke-width="0.7"/>
<line x1="212.0" y1="227.9" x2="212.0" y2="229.20000000000002" stroke="#8a8a8a" stroke-width="0.7"/>
<line x1="213.4" y1="227.9" x2="213.4" y2="229.20000000000002" stroke="#8a8a8a" stroke-width="0.7"/>
<line x1="214.5" y1="227.9" x2="214.5" y2="229.20000000000002" stroke="#8a8a8a" stroke-width="0.7"/>
<line x1="215.5" y1="227.9" x2="215.5" y2="229.20000000000002" stroke="#8a8a8a" stroke-width="0.7"/>
<line x1="216.3" y1="227.9" x2="216.3" y2="229.20000000000002" stroke="#8a8a8a" stroke-width="0.7"/>
<line x1="222.2" y1="227.9" x2="222.2" y2="229.20000000000002" stroke="#8a8a8a" stroke-width="0.7"/>
<rect x="229.25" y="148.3" width="91.4" height="79.6" fill="none" stroke="#a0a0a0" stroke-width="1"/>
<path d="M229.25 148.3V227.9H320.6" fill="none" stroke="#7a7a7a" stroke-width="1"/>
<line x1="226.85" y1="154.3" x2="229.25" y2="154.3" stroke="#555" stroke-width="1.2"/>
<line x1="226.85" y1="169.0" x2="229.25" y2="169.0" stroke="#555" stroke-width="1.2"/>
<line x1="226.85" y1="183.7" x2="229.25" y2="183.7" stroke="#555" stroke-width="1.2"/>
<line x1="226.85" y1="198.4" x2="229.25" y2="198.4" stroke="#555" stroke-width="1.2"/>
<line x1="226.85" y1="213.1" x2="229.25" y2="213.1" stroke="#555" stroke-width="1.2"/>
<line x1="227.95" y1="149.9" x2="229.25" y2="149.9" stroke="#8a8a8a" stroke-width="0.7"/>
<line x1="227.95" y1="164.6" x2="229.25" y2="164.6" stroke="#8a8a8a" stroke-width="0.7"/>
<line x1="227.95" y1="162.0" x2="229.25" y2="162.0" stroke="#8a8a8a" stroke-width="0.7"/>
<line x1="227.95" y1="160.1" x2="229.25" y2="160.1" stroke="#8a8a8a" stroke-width="0.7"/>
<line x1="227.95" y1="158.7" x2="229.25" y2="158.7" stroke="#8a8a8a" stroke-width="0.7"/>
<line x1="227.95" y1="157.6" x2="229.25" y2="157.6" stroke="#8a8a8a" stroke-width="0.7"/>
<line x1="227.95" y1="156.6" x2="229.25" y2="156.6" stroke="#8a8a8a" stroke-width="0.7"/>
<line x1="227.95" y1="155.7" x2="229.25" y2="155.7" stroke="#8a8a8a" stroke-width="0.7"/>
<line x1="227.95" y1="155.0" x2="229.25" y2="155.0" stroke="#8a8a8a" stroke-width="0.7"/>
<line x1="227.95" y1="179.3" x2="229.25" y2="179.3" stroke="#8a8a8a" stroke-width="0.7"/>
<line x1="227.95" y1="176.7" x2="229.25" y2="176.7" stroke="#8a8a8a" stroke-width="0.7"/>
<line x1="227.95" y1="174.8" x2="229.25" y2="174.8" stroke="#8a8a8a" stroke-width="0.7"/>
<line x1="227.95" y1="173.4" x2="229.25" y2="173.4" stroke="#8a8a8a" stroke-width="0.7"/>
<line x1="227.95" y1="172.3" x2="229.25" y2="172.3" stroke="#8a8a8a" stroke-width="0.7"/>
<line x1="227.95" y1="171.3" x2="229.25" y2="171.3" stroke="#8a8a8a" stroke-width="0.7"/>
<line x1="227.95" y1="170.4" x2="229.25" y2="170.4" stroke="#8a8a8a" stroke-width="0.7"/>
<line x1="227.95" y1="169.7" x2="229.25" y2="169.7" stroke="#8a8a8a" stroke-width="0.7"/>
<line x1="227.95" y1="194.0" x2="229.25" y2="194.0" stroke="#8a8a8a" stroke-width="0.7"/>
<line x1="227.95" y1="191.4" x2="229.25" y2="191.4" stroke="#8a8a8a" stroke-width="0.7"/>
<line x1="227.95" y1="189.5" x2="229.25" y2="189.5" stroke="#8a8a8a" stroke-width="0.7"/>
<line x1="227.95" y1="188.1" x2="229.25" y2="188.1" stroke="#8a8a8a" stroke-width="0.7"/>
<line x1="227.95" y1="187.0" x2="229.25" y2="187.0" stroke="#8a8a8a" stroke-width="0.7"/>
<line x1="227.95" y1="186.0" x2="229.25" y2="186.0" stroke="#8a8a8a" stroke-width="0.7"/>
<line x1="227.95" y1="185.1" x2="229.25" y2="185.1" stroke="#8a8a8a" stroke-width="0.7"/>
<line x1="227.95" y1="184.4" x2="229.25" y2="184.4" stroke="#8a8a8a" stroke-width="0.7"/>
<line x1="227.95" y1="208.7" x2="229.25" y2="208.7" stroke="#8a8a8a" stroke-width="0.7"/>
<line x1="227.95" y1="206.1" x2="229.25" y2="206.1" stroke="#8a8a8a" stroke-width="0.7"/>
<line x1="227.95" y1="204.2" x2="229.25" y2="204.2" stroke="#8a8a8a" stroke-width="0.7"/>
<line x1="227.95" y1="202.8" x2="229.25" y2="202.8" stroke="#8a8a8a" stroke-width="0.7"/>
<line x1="227.95" y1="201.7" x2="229.25" y2="201.7" stroke="#8a8a8a" stroke-width="0.7"/>
<line x1="227.95" y1="200.7" x2="229.25" y2="200.7" stroke="#8a8a8a" stroke-width="0.7"/>
<line x1="227.95" y1="199.8" x2="229.25" y2="199.8" stroke="#8a8a8a" stroke-width="0.7"/>
<line x1="227.95" y1="199.1" x2="229.25" y2="199.1" stroke="#8a8a8a" stroke-width="0.7"/>
<line x1="227.95" y1="223.4" x2="229.25" y2="223.4" stroke="#8a8a8a" stroke-width="0.7"/>
<line x1="227.95" y1="220.8" x2="229.25" y2="220.8" stroke="#8a8a8a" stroke-width="0.7"/>
<line x1="227.95" y1="218.9" x2="229.25" y2="218.9" stroke="#8a8a8a" stroke-width="0.7"/>
<line x1="227.95" y1="217.5" x2="229.25" y2="217.5" stroke="#8a8a8a" stroke-width="0.7"/>
<line x1="227.95" y1="216.4" x2="229.25" y2="216.4" stroke="#8a8a8a" stroke-width="0.7"/>
<line x1="227.95" y1="215.4" x2="229.25" y2="215.4" stroke="#8a8a8a" stroke-width="0.7"/>
<line x1="227.95" y1="214.5" x2="229.25" y2="214.5" stroke="#8a8a8a" stroke-width="0.7"/>
<line x1="227.95" y1="213.8" x2="229.25" y2="213.8" stroke="#8a8a8a" stroke-width="0.7"/>
<line x1="245.2" y1="227.9" x2="245.2" y2="230.3" stroke="#555" stroke-width="1.2"/>
<line x1="262.1" y1="227.9" x2="262.1" y2="230.3" stroke="#555" stroke-width="1.2"/>
<line x1="279.1" y1="227.9" x2="279.1" y2="230.3" stroke="#555" stroke-width="1.2"/>
<line x1="295.9" y1="227.9" x2="295.9" y2="230.3" stroke="#555" stroke-width="1.2"/>
<line x1="312.9" y1="227.9" x2="312.9" y2="230.3" stroke="#555" stroke-width="1.2"/>
<line x1="233.4" y1="227.9" x2="233.4" y2="229.20000000000002" stroke="#8a8a8a" stroke-width="0.7"/>
<line x1="236.4" y1="227.9" x2="236.4" y2="229.20000000000002" stroke="#8a8a8a" stroke-width="0.7"/>
<line x1="238.5" y1="227.9" x2="238.5" y2="229.20000000000002" stroke="#8a8a8a" stroke-width="0.7"/>
<line x1="240.2" y1="227.9" x2="240.2" y2="229.20000000000002" stroke="#8a8a8a" stroke-width="0.7"/>
<line x1="241.5" y1="227.9" x2="241.5" y2="229.20000000000002" stroke="#8a8a8a" stroke-width="0.7"/>
<line x1="242.6" y1="227.9" x2="242.6" y2="229.20000000000002" stroke="#8a8a8a" stroke-width="0.7"/>
<line x1="243.6" y1="227.9" x2="243.6" y2="229.20000000000002" stroke="#8a8a8a" stroke-width="0.7"/>
<line x1="244.5" y1="227.9" x2="244.5" y2="229.20000000000002" stroke="#8a8a8a" stroke-width="0.7"/>
<line x1="250.3" y1="227.9" x2="250.3" y2="229.20000000000002" stroke="#8a8a8a" stroke-width="0.7"/>
<line x1="253.3" y1="227.9" x2="253.3" y2="229.20000000000002" stroke="#8a8a8a" stroke-width="0.7"/>
<line x1="255.4" y1="227.9" x2="255.4" y2="229.20000000000002" stroke="#8a8a8a" stroke-width="0.7"/>
<line x1="257.1" y1="227.9" x2="257.1" y2="229.20000000000002" stroke="#8a8a8a" stroke-width="0.7"/>
<line x1="258.4" y1="227.9" x2="258.4" y2="229.20000000000002" stroke="#8a8a8a" stroke-width="0.7"/>
<line x1="259.5" y1="227.9" x2="259.5" y2="229.20000000000002" stroke="#8a8a8a" stroke-width="0.7"/>
<line x1="260.5" y1="227.9" x2="260.5" y2="229.20000000000002" stroke="#8a8a8a" stroke-width="0.7"/>
<line x1="261.4" y1="227.9" x2="261.4" y2="229.20000000000002" stroke="#8a8a8a" stroke-width="0.7"/>
<line x1="267.2" y1="227.9" x2="267.2" y2="229.20000000000002" stroke="#8a8a8a" stroke-width="0.7"/>
<line x1="270.2" y1="227.9" x2="270.2" y2="229.20000000000002" stroke="#8a8a8a" stroke-width="0.7"/>
<line x1="272.3" y1="227.9" x2="272.3" y2="229.20000000000002" stroke="#8a8a8a" stroke-width="0.7"/>
<line x1="274.0" y1="227.9" x2="274.0" y2="229.20000000000002" stroke="#8a8a8a" stroke-width="0.7"/>
<line x1="275.3" y1="227.9" x2="275.3" y2="229.20000000000002" stroke="#8a8a8a" stroke-width="0.7"/>
<line x1="276.4" y1="227.9" x2="276.4" y2="229.20000000000002" stroke="#8a8a8a" stroke-width="0.7"/>
<line x1="277.4" y1="227.9" x2="277.4" y2="229.20000000000002" stroke="#8a8a8a" stroke-width="0.7"/>
<line x1="278.3" y1="227.9" x2="278.3" y2="229.20000000000002" stroke="#8a8a8a" stroke-width="0.7"/>
<line x1="284.1" y1="227.9" x2="284.1" y2="229.20000000000002" stroke="#8a8a8a" stroke-width="0.7"/>
<line x1="287.1" y1="227.9" x2="287.1" y2="229.20000000000002" stroke="#8a8a8a" stroke-width="0.7"/>
<line x1="289.2" y1="227.9" x2="289.2" y2="229.20000000000002" stroke="#8a8a8a" stroke-width="0.7"/>
<line x1="290.9" y1="227.9" x2="290.9" y2="229.20000000000002" stroke="#8a8a8a" stroke-width="0.7"/>
<line x1="292.2" y1="227.9" x2="292.2" y2="229.20000000000002" stroke="#8a8a8a" stroke-width="0.7"/>
<line x1="293.3" y1="227.9" x2="293.3" y2="229.20000000000002" stroke="#8a8a8a" stroke-width="0.7"/>
<line x1="294.3" y1="227.9" x2="294.3" y2="229.20000000000002" stroke="#8a8a8a" stroke-width="0.7"/>
<line x1="295.2" y1="227.9" x2="295.2" y2="229.20000000000002" stroke="#8a8a8a" stroke-width="0.7"/>
<line x1="301.0" y1="227.9" x2="301.0" y2="229.20000000000002" stroke="#8a8a8a" stroke-width="0.7"/>
<line x1="304.0" y1="227.9" x2="304.0" y2="229.20000000000002" stroke="#8a8a8a" stroke-width="0.7"/>
<line x1="306.1" y1="227.9" x2="306.1" y2="229.20000000000002" stroke="#8a8a8a" stroke-width="0.7"/>
<line x1="307.8" y1="227.9" x2="307.8" y2="229.20000000000002" stroke="#8a8a8a" stroke-width="0.7"/>
<line x1="309.1" y1="227.9" x2="309.1" y2="229.20000000000002" stroke="#8a8a8a" stroke-width="0.7"/>
<line x1="310.2" y1="227.9" x2="310.2" y2="229.20000000000002" stroke="#8a8a8a" stroke-width="0.7"/>
<line x1="311.2" y1="227.9" x2="311.2" y2="229.20000000000002" stroke="#8a8a8a" stroke-width="0.7"/>
<line x1="312.1" y1="227.9" x2="312.1" y2="229.20000000000002" stroke="#8a8a8a" stroke-width="0.7"/>
<line x1="317.9" y1="227.9" x2="317.9" y2="229.20000000000002" stroke="#8a8a8a" stroke-width="0.7"/>
<rect x="324.6" y="148.3" width="91.2" height="79.6" fill="none" stroke="#a0a0a0" stroke-width="1"/>
<path d="M324.6 148.3V227.9H415.8" fill="none" stroke="#7a7a7a" stroke-width="1"/>
<line x1="322.20000000000005" y1="154.3" x2="324.6" y2="154.3" stroke="#555" stroke-width="1.2"/>
<line x1="322.20000000000005" y1="169.0" x2="324.6" y2="169.0" stroke="#555" stroke-width="1.2"/>
<line x1="322.20000000000005" y1="183.7" x2="324.6" y2="183.7" stroke="#555" stroke-width="1.2"/>
<line x1="322.20000000000005" y1="198.4" x2="324.6" y2="198.4" stroke="#555" stroke-width="1.2"/>
<line x1="322.20000000000005" y1="213.1" x2="324.6" y2="213.1" stroke="#555" stroke-width="1.2"/>
<line x1="323.3" y1="149.9" x2="324.6" y2="149.9" stroke="#8a8a8a" stroke-width="0.7"/>
<line x1="323.3" y1="164.6" x2="324.6" y2="164.6" stroke="#8a8a8a" stroke-width="0.7"/>
<line x1="323.3" y1="162.0" x2="324.6" y2="162.0" stroke="#8a8a8a" stroke-width="0.7"/>
<line x1="323.3" y1="160.1" x2="324.6" y2="160.1" stroke="#8a8a8a" stroke-width="0.7"/>
<line x1="323.3" y1="158.7" x2="324.6" y2="158.7" stroke="#8a8a8a" stroke-width="0.7"/>
<line x1="323.3" y1="157.6" x2="324.6" y2="157.6" stroke="#8a8a8a" stroke-width="0.7"/>
<line x1="323.3" y1="156.6" x2="324.6" y2="156.6" stroke="#8a8a8a" stroke-width="0.7"/>
<line x1="323.3" y1="155.7" x2="324.6" y2="155.7" stroke="#8a8a8a" stroke-width="0.7"/>
<line x1="323.3" y1="155.0" x2="324.6" y2="155.0" stroke="#8a8a8a" stroke-width="0.7"/>
<line x1="323.3" y1="179.3" x2="324.6" y2="179.3" stroke="#8a8a8a" stroke-width="0.7"/>
<line x1="323.3" y1="176.7" x2="324.6" y2="176.7" stroke="#8a8a8a" stroke-width="0.7"/>
<line x1="323.3" y1="174.8" x2="324.6" y2="174.8" stroke="#8a8a8a" stroke-width="0.7"/>
<line x1="323.3" y1="173.4" x2="324.6" y2="173.4" stroke="#8a8a8a" stroke-width="0.7"/>
<line x1="323.3" y1="172.3" x2="324.6" y2="172.3" stroke="#8a8a8a" stroke-width="0.7"/>
<line x1="323.3" y1="171.3" x2="324.6" y2="171.3" stroke="#8a8a8a" stroke-width="0.7"/>
<line x1="323.3" y1="170.4" x2="324.6" y2="170.4" stroke="#8a8a8a" stroke-width="0.7"/>
<line x1="323.3" y1="169.7" x2="324.6" y2="169.7" stroke="#8a8a8a" stroke-width="0.7"/>
<line x1="323.3" y1="194.0" x2="324.6" y2="194.0" stroke="#8a8a8a" stroke-width="0.7"/>
<line x1="323.3" y1="191.4" x2="324.6" y2="191.4" stroke="#8a8a8a" stroke-width="0.7"/>
<line x1="323.3" y1="189.5" x2="324.6" y2="189.5" stroke="#8a8a8a" stroke-width="0.7"/>
<line x1="323.3" y1="188.1" x2="324.6" y2="188.1" stroke="#8a8a8a" stroke-width="0.7"/>
<line x1="323.3" y1="187.0" x2="324.6" y2="187.0" stroke="#8a8a8a" stroke-width="0.7"/>
<line x1="323.3" y1="186.0" x2="324.6" y2="186.0" stroke="#8a8a8a" stroke-width="0.7"/>
<line x1="323.3" y1="185.1" x2="324.6" y2="185.1" stroke="#8a8a8a" stroke-width="0.7"/>
<line x1="323.3" y1="184.4" x2="324.6" y2="184.4" stroke="#8a8a8a" stroke-width="0.7"/>
<line x1="323.3" y1="208.7" x2="324.6" y2="208.7" stroke="#8a8a8a" stroke-width="0.7"/>
<line x1="323.3" y1="206.1" x2="324.6" y2="206.1" stroke="#8a8a8a" stroke-width="0.7"/>
<line x1="323.3" y1="204.2" x2="324.6" y2="204.2" stroke="#8a8a8a" stroke-width="0.7"/>
<line x1="323.3" y1="202.8" x2="324.6" y2="202.8" stroke="#8a8a8a" stroke-width="0.7"/>
<line x1="323.3" y1="201.7" x2="324.6" y2="201.7" stroke="#8a8a8a" stroke-width="0.7"/>
<line x1="323.3" y1="200.7" x2="324.6" y2="200.7" stroke="#8a8a8a" stroke-width="0.7"/>
<line x1="323.3" y1="199.8" x2="324.6" y2="199.8" stroke="#8a8a8a" stroke-width="0.7"/>
<line x1="323.3" y1="199.1" x2="324.6" y2="199.1" stroke="#8a8a8a" stroke-width="0.7"/>
<line x1="323.3" y1="223.4" x2="324.6" y2="223.4" stroke="#8a8a8a" stroke-width="0.7"/>
<line x1="323.3" y1="220.8" x2="324.6" y2="220.8" stroke="#8a8a8a" stroke-width="0.7"/>
<line x1="323.3" y1="218.9" x2="324.6" y2="218.9" stroke="#8a8a8a" stroke-width="0.7"/>
<line x1="323.3" y1="217.5" x2="324.6" y2="217.5" stroke="#8a8a8a" stroke-width="0.7"/>
<line x1="323.3" y1="216.4" x2="324.6" y2="216.4" stroke="#8a8a8a" stroke-width="0.7"/>
<line x1="323.3" y1="215.4" x2="324.6" y2="215.4" stroke="#8a8a8a" stroke-width="0.7"/>
<line x1="323.3" y1="214.5" x2="324.6" y2="214.5" stroke="#8a8a8a" stroke-width="0.7"/>
<line x1="323.3" y1="213.8" x2="324.6" y2="213.8" stroke="#8a8a8a" stroke-width="0.7"/>
<line x1="340.6" y1="227.9" x2="340.6" y2="230.3" stroke="#555" stroke-width="1.2"/>
<line x1="357.5" y1="227.9" x2="357.5" y2="230.3" stroke="#555" stroke-width="1.2"/>
<line x1="374.4" y1="227.9" x2="374.4" y2="230.3" stroke="#555" stroke-width="1.2"/>
<line x1="391.3" y1="227.9" x2="391.3" y2="230.3" stroke="#555" stroke-width="1.2"/>
<line x1="408.2" y1="227.9" x2="408.2" y2="230.3" stroke="#555" stroke-width="1.2"/>
<line x1="328.8" y1="227.9" x2="328.8" y2="229.20000000000002" stroke="#8a8a8a" stroke-width="0.7"/>
<line x1="331.8" y1="227.9" x2="331.8" y2="229.20000000000002" stroke="#8a8a8a" stroke-width="0.7"/>
<line x1="333.9" y1="227.9" x2="333.9" y2="229.20000000000002" stroke="#8a8a8a" stroke-width="0.7"/>
<line x1="335.5" y1="227.9" x2="335.5" y2="229.20000000000002" stroke="#8a8a8a" stroke-width="0.7"/>
<line x1="336.9" y1="227.9" x2="336.9" y2="229.20000000000002" stroke="#8a8a8a" stroke-width="0.7"/>
<line x1="338.0" y1="227.9" x2="338.0" y2="229.20000000000002" stroke="#8a8a8a" stroke-width="0.7"/>
<line x1="339.0" y1="227.9" x2="339.0" y2="229.20000000000002" stroke="#8a8a8a" stroke-width="0.7"/>
<line x1="339.8" y1="227.9" x2="339.8" y2="229.20000000000002" stroke="#8a8a8a" stroke-width="0.7"/>
<line x1="345.7" y1="227.9" x2="345.7" y2="229.20000000000002" stroke="#8a8a8a" stroke-width="0.7"/>
<line x1="348.7" y1="227.9" x2="348.7" y2="229.20000000000002" stroke="#8a8a8a" stroke-width="0.7"/>
<line x1="350.8" y1="227.9" x2="350.8" y2="229.20000000000002" stroke="#8a8a8a" stroke-width="0.7"/>
<line x1="352.4" y1="227.9" x2="352.4" y2="229.20000000000002" stroke="#8a8a8a" stroke-width="0.7"/>
<line x1="353.8" y1="227.9" x2="353.8" y2="229.20000000000002" stroke="#8a8a8a" stroke-width="0.7"/>
<line x1="354.9" y1="227.9" x2="354.9" y2="229.20000000000002" stroke="#8a8a8a" stroke-width="0.7"/>
<line x1="355.9" y1="227.9" x2="355.9" y2="229.20000000000002" stroke="#8a8a8a" stroke-width="0.7"/>
<line x1="356.7" y1="227.9" x2="356.7" y2="229.20000000000002" stroke="#8a8a8a" stroke-width="0.7"/>
<line x1="362.6" y1="227.9" x2="362.6" y2="229.20000000000002" stroke="#8a8a8a" stroke-width="0.7"/>
<line x1="365.6" y1="227.9" x2="365.6" y2="229.20000000000002" stroke="#8a8a8a" stroke-width="0.7"/>
<line x1="367.7" y1="227.9" x2="367.7" y2="229.20000000000002" stroke="#8a8a8a" stroke-width="0.7"/>
<line x1="369.3" y1="227.9" x2="369.3" y2="229.20000000000002" stroke="#8a8a8a" stroke-width="0.7"/>
<line x1="370.7" y1="227.9" x2="370.7" y2="229.20000000000002" stroke="#8a8a8a" stroke-width="0.7"/>
<line x1="371.8" y1="227.9" x2="371.8" y2="229.20000000000002" stroke="#8a8a8a" stroke-width="0.7"/>
<line x1="372.8" y1="227.9" x2="372.8" y2="229.20000000000002" stroke="#8a8a8a" stroke-width="0.7"/>
<line x1="373.6" y1="227.9" x2="373.6" y2="229.20000000000002" stroke="#8a8a8a" stroke-width="0.7"/>
<line x1="379.5" y1="227.9" x2="379.5" y2="229.20000000000002" stroke="#8a8a8a" stroke-width="0.7"/>
<line x1="382.5" y1="227.9" x2="382.5" y2="229.20000000000002" stroke="#8a8a8a" stroke-width="0.7"/>
<line x1="384.6" y1="227.9" x2="384.6" y2="229.20000000000002" stroke="#8a8a8a" stroke-width="0.7"/>
<line x1="386.2" y1="227.9" x2="386.2" y2="229.20000000000002" stroke="#8a8a8a" stroke-width="0.7"/>
<line x1="387.6" y1="227.9" x2="387.6" y2="229.20000000000002" stroke="#8a8a8a" stroke-width="0.7"/>
<line x1="388.7" y1="227.9" x2="388.7" y2="229.20000000000002" stroke="#8a8a8a" stroke-width="0.7"/>
<line x1="389.7" y1="227.9" x2="389.7" y2="229.20000000000002" stroke="#8a8a8a" stroke-width="0.7"/>
<line x1="390.5" y1="227.9" x2="390.5" y2="229.20000000000002" stroke="#8a8a8a" stroke-width="0.7"/>
<line x1="396.4" y1="227.9" x2="396.4" y2="229.20000000000002" stroke="#8a8a8a" stroke-width="0.7"/>
<line x1="399.4" y1="227.9" x2="399.4" y2="229.20000000000002" stroke="#8a8a8a" stroke-width="0.7"/>
<line x1="401.5" y1="227.9" x2="401.5" y2="229.20000000000002" stroke="#8a8a8a" stroke-width="0.7"/>
<line x1="403.1" y1="227.9" x2="403.1" y2="229.20000000000002" stroke="#8a8a8a" stroke-width="0.7"/>
<line x1="404.5" y1="227.9" x2="404.5" y2="229.20000000000002" stroke="#8a8a8a" stroke-width="0.7"/>
<line x1="405.6" y1="227.9" x2="405.6" y2="229.20000000000002" stroke="#8a8a8a" stroke-width="0.7"/>
<line x1="406.6" y1="227.9" x2="406.6" y2="229.20000000000002" stroke="#8a8a8a" stroke-width="0.7"/>
<line x1="407.4" y1="227.9" x2="407.4" y2="229.20000000000002" stroke="#8a8a8a" stroke-width="0.7"/>
<line x1="413.3" y1="227.9" x2="413.3" y2="229.20000000000002" stroke="#8a8a8a" stroke-width="0.7"/>
<rect x="421.4" y="148.3" width="90.9" height="79.6" fill="none" stroke="#a0a0a0" stroke-width="1"/>
<path d="M421.4 148.3V227.9H512.25" fill="none" stroke="#7a7a7a" stroke-width="1"/>
<line x1="419.0" y1="154.3" x2="421.4" y2="154.3" stroke="#555" stroke-width="1.2"/>
<line x1="419.0" y1="169.0" x2="421.4" y2="169.0" stroke="#555" stroke-width="1.2"/>
<line x1="419.0" y1="183.7" x2="421.4" y2="183.7" stroke="#555" stroke-width="1.2"/>
<line x1="419.0" y1="198.4" x2="421.4" y2="198.4" stroke="#555" stroke-width="1.2"/>
<line x1="419.0" y1="213.1" x2="421.4" y2="213.1" stroke="#555" stroke-width="1.2"/>
<line x1="420.09999999999997" y1="149.9" x2="421.4" y2="149.9" stroke="#8a8a8a" stroke-width="0.7"/>
<line x1="420.09999999999997" y1="164.6" x2="421.4" y2="164.6" stroke="#8a8a8a" stroke-width="0.7"/>
<line x1="420.09999999999997" y1="162.0" x2="421.4" y2="162.0" stroke="#8a8a8a" stroke-width="0.7"/>
<line x1="420.09999999999997" y1="160.1" x2="421.4" y2="160.1" stroke="#8a8a8a" stroke-width="0.7"/>
<line x1="420.09999999999997" y1="158.7" x2="421.4" y2="158.7" stroke="#8a8a8a" stroke-width="0.7"/>
<line x1="420.09999999999997" y1="157.6" x2="421.4" y2="157.6" stroke="#8a8a8a" stroke-width="0.7"/>
<line x1="420.09999999999997" y1="156.6" x2="421.4" y2="156.6" stroke="#8a8a8a" stroke-width="0.7"/>
<line x1="420.09999999999997" y1="155.7" x2="421.4" y2="155.7" stroke="#8a8a8a" stroke-width="0.7"/>
<line x1="420.09999999999997" y1="155.0" x2="421.4" y2="155.0" stroke="#8a8a8a" stroke-width="0.7"/>
<line x1="420.09999999999997" y1="179.3" x2="421.4" y2="179.3" stroke="#8a8a8a" stroke-width="0.7"/>
<line x1="420.09999999999997" y1="176.7" x2="421.4" y2="176.7" stroke="#8a8a8a" stroke-width="0.7"/>
<line x1="420.09999999999997" y1="174.8" x2="421.4" y2="174.8" stroke="#8a8a8a" stroke-width="0.7"/>
<line x1="420.09999999999997" y1="173.4" x2="421.4" y2="173.4" stroke="#8a8a8a" stroke-width="0.7"/>
<line x1="420.09999999999997" y1="172.3" x2="421.4" y2="172.3" stroke="#8a8a8a" stroke-width="0.7"/>
<line x1="420.09999999999997" y1="171.3" x2="421.4" y2="171.3" stroke="#8a8a8a" stroke-width="0.7"/>
<line x1="420.09999999999997" y1="170.4" x2="421.4" y2="170.4" stroke="#8a8a8a" stroke-width="0.7"/>
<line x1="420.09999999999997" y1="169.7" x2="421.4" y2="169.7" stroke="#8a8a8a" stroke-width="0.7"/>
<line x1="420.09999999999997" y1="194.0" x2="421.4" y2="194.0" stroke="#8a8a8a" stroke-width="0.7"/>
<line x1="420.09999999999997" y1="191.4" x2="421.4" y2="191.4" stroke="#8a8a8a" stroke-width="0.7"/>
<line x1="420.09999999999997" y1="189.5" x2="421.4" y2="189.5" stroke="#8a8a8a" stroke-width="0.7"/>
<line x1="420.09999999999997" y1="188.1" x2="421.4" y2="188.1" stroke="#8a8a8a" stroke-width="0.7"/>
<line x1="420.09999999999997" y1="187.0" x2="421.4" y2="187.0" stroke="#8a8a8a" stroke-width="0.7"/>
<line x1="420.09999999999997" y1="186.0" x2="421.4" y2="186.0" stroke="#8a8a8a" stroke-width="0.7"/>
<line x1="420.09999999999997" y1="185.1" x2="421.4" y2="185.1" stroke="#8a8a8a" stroke-width="0.7"/>
<line x1="420.09999999999997" y1="184.4" x2="421.4" y2="184.4" stroke="#8a8a8a" stroke-width="0.7"/>
<line x1="420.09999999999997" y1="208.7" x2="421.4" y2="208.7" stroke="#8a8a8a" stroke-width="0.7"/>
<line x1="420.09999999999997" y1="206.1" x2="421.4" y2="206.1" stroke="#8a8a8a" stroke-width="0.7"/>
<line x1="420.09999999999997" y1="204.2" x2="421.4" y2="204.2" stroke="#8a8a8a" stroke-width="0.7"/>
<line x1="420.09999999999997" y1="202.8" x2="421.4" y2="202.8" stroke="#8a8a8a" stroke-width="0.7"/>
<line x1="420.09999999999997" y1="201.7" x2="421.4" y2="201.7" stroke="#8a8a8a" stroke-width="0.7"/>
<line x1="420.09999999999997" y1="200.7" x2="421.4" y2="200.7" stroke="#8a8a8a" stroke-width="0.7"/>
<line x1="420.09999999999997" y1="199.8" x2="421.4" y2="199.8" stroke="#8a8a8a" stroke-width="0.7"/>
<line x1="420.09999999999997" y1="199.1" x2="421.4" y2="199.1" stroke="#8a8a8a" stroke-width="0.7"/>
<line x1="420.09999999999997" y1="223.4" x2="421.4" y2="223.4" stroke="#8a8a8a" stroke-width="0.7"/>
<line x1="420.09999999999997" y1="220.8" x2="421.4" y2="220.8" stroke="#8a8a8a" stroke-width="0.7"/>
<line x1="420.09999999999997" y1="218.9" x2="421.4" y2="218.9" stroke="#8a8a8a" stroke-width="0.7"/>
<line x1="420.09999999999997" y1="217.5" x2="421.4" y2="217.5" stroke="#8a8a8a" stroke-width="0.7"/>
<line x1="420.09999999999997" y1="216.4" x2="421.4" y2="216.4" stroke="#8a8a8a" stroke-width="0.7"/>
<line x1="420.09999999999997" y1="215.4" x2="421.4" y2="215.4" stroke="#8a8a8a" stroke-width="0.7"/>
<line x1="420.09999999999997" y1="214.5" x2="421.4" y2="214.5" stroke="#8a8a8a" stroke-width="0.7"/>
<line x1="420.09999999999997" y1="213.8" x2="421.4" y2="213.8" stroke="#8a8a8a" stroke-width="0.7"/>
<line x1="437.4" y1="227.9" x2="437.4" y2="230.3" stroke="#555" stroke-width="1.2"/>
<line x1="454.3" y1="227.9" x2="454.3" y2="230.3" stroke="#555" stroke-width="1.2"/>
<line x1="471.2" y1="227.9" x2="471.2" y2="230.3" stroke="#555" stroke-width="1.2"/>
<line x1="488.1" y1="227.9" x2="488.1" y2="230.3" stroke="#555" stroke-width="1.2"/>
<line x1="505.0" y1="227.9" x2="505.0" y2="230.3" stroke="#555" stroke-width="1.2"/>
<line x1="425.6" y1="227.9" x2="425.6" y2="229.20000000000002" stroke="#8a8a8a" stroke-width="0.7"/>
<line x1="428.6" y1="227.9" x2="428.6" y2="229.20000000000002" stroke="#8a8a8a" stroke-width="0.7"/>
<line x1="430.7" y1="227.9" x2="430.7" y2="229.20000000000002" stroke="#8a8a8a" stroke-width="0.7"/>
<line x1="432.3" y1="227.9" x2="432.3" y2="229.20000000000002" stroke="#8a8a8a" stroke-width="0.7"/>
<line x1="433.7" y1="227.9" x2="433.7" y2="229.20000000000002" stroke="#8a8a8a" stroke-width="0.7"/>
<line x1="434.8" y1="227.9" x2="434.8" y2="229.20000000000002" stroke="#8a8a8a" stroke-width="0.7"/>
<line x1="435.8" y1="227.9" x2="435.8" y2="229.20000000000002" stroke="#8a8a8a" stroke-width="0.7"/>
<line x1="436.6" y1="227.9" x2="436.6" y2="229.20000000000002" stroke="#8a8a8a" stroke-width="0.7"/>
<line x1="442.5" y1="227.9" x2="442.5" y2="229.20000000000002" stroke="#8a8a8a" stroke-width="0.7"/>
<line x1="445.5" y1="227.9" x2="445.5" y2="229.20000000000002" stroke="#8a8a8a" stroke-width="0.7"/>
<line x1="447.6" y1="227.9" x2="447.6" y2="229.20000000000002" stroke="#8a8a8a" stroke-width="0.7"/>
<line x1="449.2" y1="227.9" x2="449.2" y2="229.20000000000002" stroke="#8a8a8a" stroke-width="0.7"/>
<line x1="450.6" y1="227.9" x2="450.6" y2="229.20000000000002" stroke="#8a8a8a" stroke-width="0.7"/>
<line x1="451.7" y1="227.9" x2="451.7" y2="229.20000000000002" stroke="#8a8a8a" stroke-width="0.7"/>
<line x1="452.7" y1="227.9" x2="452.7" y2="229.20000000000002" stroke="#8a8a8a" stroke-width="0.7"/>
<line x1="453.5" y1="227.9" x2="453.5" y2="229.20000000000002" stroke="#8a8a8a" stroke-width="0.7"/>
<line x1="459.4" y1="227.9" x2="459.4" y2="229.20000000000002" stroke="#8a8a8a" stroke-width="0.7"/>
<line x1="462.4" y1="227.9" x2="462.4" y2="229.20000000000002" stroke="#8a8a8a" stroke-width="0.7"/>
<line x1="464.5" y1="227.9" x2="464.5" y2="229.20000000000002" stroke="#8a8a8a" stroke-width="0.7"/>
<line x1="466.1" y1="227.9" x2="466.1" y2="229.20000000000002" stroke="#8a8a8a" stroke-width="0.7"/>
<line x1="467.5" y1="227.9" x2="467.5" y2="229.20000000000002" stroke="#8a8a8a" stroke-width="0.7"/>
<line x1="468.6" y1="227.9" x2="468.6" y2="229.20000000000002" stroke="#8a8a8a" stroke-width="0.7"/>
<line x1="469.6" y1="227.9" x2="469.6" y2="229.20000000000002" stroke="#8a8a8a" stroke-width="0.7"/>
<line x1="470.4" y1="227.9" x2="470.4" y2="229.20000000000002" stroke="#8a8a8a" stroke-width="0.7"/>
<line x1="476.3" y1="227.9" x2="476.3" y2="229.20000000000002" stroke="#8a8a8a" stroke-width="0.7"/>
<line x1="479.3" y1="227.9" x2="479.3" y2="229.20000000000002" stroke="#8a8a8a" stroke-width="0.7"/>
<line x1="481.4" y1="227.9" x2="481.4" y2="229.20000000000002" stroke="#8a8a8a" stroke-width="0.7"/>
<line x1="483.0" y1="227.9" x2="483.0" y2="229.20000000000002" stroke="#8a8a8a" stroke-width="0.7"/>
<line x1="484.4" y1="227.9" x2="484.4" y2="229.20000000000002" stroke="#8a8a8a" stroke-width="0.7"/>
<line x1="485.5" y1="227.9" x2="485.5" y2="229.20000000000002" stroke="#8a8a8a" stroke-width="0.7"/>
<line x1="486.5" y1="227.9" x2="486.5" y2="229.20000000000002" stroke="#8a8a8a" stroke-width="0.7"/>
<line x1="487.3" y1="227.9" x2="487.3" y2="229.20000000000002" stroke="#8a8a8a" stroke-width="0.7"/>
<line x1="493.2" y1="227.9" x2="493.2" y2="229.20000000000002" stroke="#8a8a8a" stroke-width="0.7"/>
<line x1="496.2" y1="227.9" x2="496.2" y2="229.20000000000002" stroke="#8a8a8a" stroke-width="0.7"/>
<line x1="498.3" y1="227.9" x2="498.3" y2="229.20000000000002" stroke="#8a8a8a" stroke-width="0.7"/>
<line x1="499.9" y1="227.9" x2="499.9" y2="229.20000000000002" stroke="#8a8a8a" stroke-width="0.7"/>
<line x1="501.3" y1="227.9" x2="501.3" y2="229.20000000000002" stroke="#8a8a8a" stroke-width="0.7"/>
<line x1="502.4" y1="227.9" x2="502.4" y2="229.20000000000002" stroke="#8a8a8a" stroke-width="0.7"/>
<line x1="503.4" y1="227.9" x2="503.4" y2="229.20000000000002" stroke="#8a8a8a" stroke-width="0.7"/>
<line x1="504.2" y1="227.9" x2="504.2" y2="229.20000000000002" stroke="#8a8a8a" stroke-width="0.7"/>
<line x1="510.1" y1="227.9" x2="510.1" y2="229.20000000000002" stroke="#8a8a8a" stroke-width="0.7"/>
<defs><radialGradient id="gauss">
<stop offset="0.000" stop-color="#000" stop-opacity="1.0000"/>
<stop offset="0.083" stop-color="#000" stop-opacity="0.9692"/>
<stop offset="0.167" stop-color="#000" stop-opacity="0.8825"/>
<stop offset="0.250" stop-color="#000" stop-opacity="0.7548"/>
<stop offset="0.333" stop-color="#000" stop-opacity="0.6065"/>
<stop offset="0.417" stop-color="#000" stop-opacity="0.4578"/>
<stop offset="0.500" stop-color="#000" stop-opacity="0.3247"/>
<stop offset="0.583" stop-color="#000" stop-opacity="0.2163"/>
<stop offset="0.667" stop-color="#000" stop-opacity="0.1353"/>
<stop offset="0.750" stop-color="#000" stop-opacity="0.0796"/>
<stop offset="0.833" stop-color="#000" stop-opacity="0.0439"/>
<stop offset="0.917" stop-color="#000" stop-opacity="0.0228"/>
<stop offset="1.000" stop-color="#000" stop-opacity="0.0111"/>
</radialGradient>
<filter id="dens" x="-5%" y="-5%" width="110%" height="110%" color-interpolation-filters="sRGB">
<feGaussianBlur in="SourceAlpha" stdDeviation="0.8" result="a"/>
<feColorMatrix in="a" type="matrix" values="0 0 0 1 0 0 0 0 1 0 0 0 0 1 0 0 0 0 1 0" result="g"/>
<feComponentTransfer in="g" result="col"><feFuncR type="table" tableValues="0.725 0.640 0.563 0.501 0.439 0.407 0.374 0.364 0.370 0.409 0.471 0.549 0.627 0.686 0.745 0.786 0.827 0.856 0.878 0.900 0.922"/><feFuncG type="table" tableValues="0.737 0.659 0.590 0.534 0.478 0.472 0.465 0.495 0.547 0.608 0.675 0.725 0.776 0.792 0.808 0.798 0.788 0.758 0.715 0.671 0.627"/><feFuncB type="table" tableValues="0.863 0.824 0.787 0.754 0.722 0.695 0.669 0.632 0.587 0.529 0.463 0.392 0.322 0.298 0.275 0.250 0.225 0.209 0.198 0.187 0.176"/><feFuncA type="table" tableValues="0.000 0.300 0.460 0.560 0.650 0.725 0.800 0.867 0.933 1.000 1.000 1.000 1.000 1.000 1.000 1.000 1.000 1.000 1.000 1.000 1.000"/></feComponentTransfer>
<feTurbulence type="fractalNoise" baseFrequency="0.6" numOctaves="2" seed="7" result="n"/>
<feColorMatrix in="n" type="matrix" values="0 0 0 0 0 0 0 0 0 0 0 0 0 0 0 1 0 0 0 0" result="nA"/>
<feComposite in="nA" in2="a" operator="arithmetic" k1="0" k2="4.0" k3="2.2" k4="-1.72" result="m"/>
<feComposite in="col" in2="m" operator="in" result="sp"/>
<feGaussianBlur in="sp" stdDeviation="0.3"/>
</filter>
<clipPath id="cp00"><rect x="36.0" y="38.9" width="90.1" height="78.7"/></clipPath>
<clipPath id="cp01"><rect x="134.0" y="38.9" width="90.1" height="78.7"/></clipPath>
<clipPath id="cp02"><rect x="230.9" y="38.9" width="90.1" height="78.7"/></clipPath>
<clipPath id="cp03"><rect x="326.8" y="38.9" width="90.2" height="78.7"/></clipPath>
<clipPath id="cp04"><rect x="423.3" y="38.9" width="88.6" height="78.7"/></clipPath>
<clipPath id="cp10"><rect x="35.75" y="148.8" width="90.2" height="78.6"/></clipPath>
<clipPath id="cp11"><rect x="134.0" y="148.8" width="90.0" height="78.6"/></clipPath>
<clipPath id="cp12"><rect x="229.75" y="148.8" width="90.4" height="78.6"/></clipPath>
<clipPath id="cp13"><rect x="325.1" y="148.8" width="90.2" height="78.6"/></clipPath>
<clipPath id="cp14"><rect x="421.9" y="148.8" width="89.9" height="78.6"/></clipPath></defs>
<g clip-path="url(#cp00)"><g filter="url(#dens)">
<ellipse cx="66.0" cy="100.2" rx="75" ry="33" fill="url(#gauss)" opacity="0.035"/>
<ellipse cx="0" cy="0" rx="27.60" ry="20.70" transform="translate(62,102) rotate(15)" fill="url(#gauss)" opacity="0.12"/>
<ellipse cx="0" cy="0" rx="29.32" ry="14.49" transform="translate(72.5,101) rotate(-80)" fill="url(#gauss)" opacity="0.34"/>
<ellipse cx="0" cy="0" rx="12.07" ry="17.25" transform="translate(83,93) rotate(0)" fill="url(#gauss)" opacity="0.12"/>
<ellipse cx="0" cy="0" rx="11.04" ry="9.66" transform="translate(74.5,94.5) rotate(0)" fill="url(#gauss)" opacity="0.45"/>
</g></g>
<g clip-path="url(#cp01)"><g filter="url(#dens)">
<ellipse cx="164.1" cy="100.2" rx="75" ry="33" fill="url(#gauss)" opacity="0.035"/>
<ellipse cx="0" cy="0" rx="41.40" ry="24.15" transform="translate(157,103) rotate(10)" fill="url(#gauss)" opacity="0.1"/>
<ellipse cx="0" cy="0" rx="27.60" ry="18.97" transform="translate(166,95) rotate(15)" fill="url(#gauss)" opacity="0.38"/>
<ellipse cx="0" cy="0" rx="22.42" ry="13.80" transform="translate(187,88.5) rotate(-30)" fill="url(#gauss)" opacity="0.32"/>
<ellipse cx="0" cy="0" rx="12.42" ry="10.35" transform="translate(168.4,92.7) rotate(0)" fill="url(#gauss)" opacity="0.6"/>
</g></g>
<g clip-path="url(#cp02)"><g filter="url(#dens)">
<ellipse cx="260.9" cy="100.2" rx="75" ry="33" fill="url(#gauss)" opacity="0.035"/>
<ellipse cx="0" cy="0" rx="13.80" ry="24.15" transform="translate(254,104) rotate(-80)" fill="url(#gauss)" opacity="0.1"/>
<ellipse cx="0" cy="0" rx="34.50" ry="13.80" transform="translate(268,80) rotate(-55)" fill="url(#gauss)" opacity="0.12"/>
<ellipse cx="0" cy="0" rx="18.97" ry="15.52" transform="translate(262.7,91.3) rotate(-30)" fill="url(#gauss)" opacity="0.28"/>
<ellipse cx="0" cy="0" rx="20.70" ry="17.25" transform="translate(284,75) rotate(-40)" fill="url(#gauss)" opacity="0.34"/>
<ellipse cx="0" cy="0" rx="11.04" ry="10.35" transform="translate(283.3,74.5) rotate(-30)" fill="url(#gauss)" opacity="0.45"/>
</g></g>
<g clip-path="url(#cp03)"><g filter="url(#dens)">
<ellipse cx="356.9" cy="100.2" rx="75" ry="33" fill="url(#gauss)" opacity="0.035"/>
<ellipse cx="0" cy="0" rx="41.40" ry="20.70" transform="translate(370,96) rotate(0)" fill="url(#gauss)" opacity="0.08"/>
<ellipse cx="0" cy="0" rx="27.60" ry="13.80" transform="translate(365,76) rotate(-75)" fill="url(#gauss)" opacity="0.14"/>
<ellipse cx="0" cy="0" rx="18.97" ry="14.49" transform="translate(361.5,88.5) rotate(0)" fill="url(#gauss)" opacity="0.36"/>
<ellipse cx="0" cy="0" rx="31.05" ry="24.15" transform="translate(383.5,71.5) rotate(-50)" fill="url(#gauss)" opacity="0.36"/>
<ellipse cx="0" cy="0" rx="20.70" ry="9.66" transform="translate(386.5,69.5) rotate(-55)" fill="url(#gauss)" opacity="0.4"/>
</g></g>
<g clip-path="url(#cp04)"><g filter="url(#dens)">
<ellipse cx="452.6" cy="100.2" rx="75" ry="33" fill="url(#gauss)" opacity="0.035"/>
<ellipse cx="0" cy="0" rx="34.50" ry="24.15" transform="translate(450,100) rotate(0)" fill="url(#gauss)" opacity="0.06"/>
<ellipse cx="0" cy="0" rx="31.05" ry="17.25" transform="translate(456,97) rotate(-20)" fill="url(#gauss)" opacity="0.1"/>
<ellipse cx="0" cy="0" rx="25.87" ry="18.97" transform="translate(474,88) rotate(-75)" fill="url(#gauss)" opacity="0.38"/>
<ellipse cx="0" cy="0" rx="10.35" ry="9.66" transform="translate(472.5,89.5) rotate(0)" fill="url(#gauss)" opacity="0.5"/>
</g></g>
<g clip-path="url(#cp10)"><g filter="url(#dens)">
<ellipse cx="65.9" cy="210.1" rx="75" ry="33" fill="url(#gauss)" opacity="0.035"/>
<ellipse cx="0" cy="0" rx="48.30" ry="20.70" transform="translate(70,212) rotate(0)" fill="url(#gauss)" opacity="0.08"/>
<ellipse cx="0" cy="0" rx="27.60" ry="15.52" transform="translate(70,205) rotate(0)" fill="url(#gauss)" opacity="0.32"/>
<ellipse cx="0" cy="0" rx="31.05" ry="20.70" transform="translate(90,203) rotate(-40)" fill="url(#gauss)" opacity="0.36"/>
<ellipse cx="0" cy="0" rx="17.25" ry="12.07" transform="translate(90,202) rotate(-40)" fill="url(#gauss)" opacity="0.45"/>
</g></g>
<g clip-path="url(#cp11)"><g filter="url(#dens)">
<ellipse cx="164.0" cy="210.1" rx="75" ry="33" fill="url(#gauss)" opacity="0.035"/>
<ellipse cx="0" cy="0" rx="41.40" ry="20.70" transform="translate(163,208) rotate(0)" fill="url(#gauss)" opacity="0.08"/>
<ellipse cx="0" cy="0" rx="24.15" ry="15.52" transform="translate(166,204) rotate(-10)" fill="url(#gauss)" opacity="0.3"/>
<ellipse cx="0" cy="0" rx="34.50" ry="18.97" transform="translate(187.5,197) rotate(-70)" fill="url(#gauss)" opacity="0.36"/>
<ellipse cx="0" cy="0" rx="13.80" ry="11.04" transform="translate(187,199.5) rotate(-65)" fill="url(#gauss)" opacity="0.45"/>
</g></g>
<g clip-path="url(#cp12)"><g filter="url(#dens)">
<ellipse cx="259.9" cy="210.1" rx="75" ry="33" fill="url(#gauss)" opacity="0.035"/>
<ellipse cx="0" cy="0" rx="48.30" ry="20.70" transform="translate(270,210) rotate(0)" fill="url(#gauss)" opacity="0.09"/>
<ellipse cx="0" cy="0" rx="24.15" ry="18.97" transform="translate(262,206) rotate(-20)" fill="url(#gauss)" opacity="0.3"/>
<ellipse cx="0" cy="0" rx="10.35" ry="8.97" transform="translate(263.6,203) rotate(0)" fill="url(#gauss)" opacity="0.28"/>
<ellipse cx="0" cy="0" rx="25.87" ry="15.87" transform="translate(286,200) rotate(-35)" fill="url(#gauss)" opacity="0.32"/>
<ellipse cx="0" cy="0" rx="11.04" ry="9.66" transform="translate(284.9,201) rotate(-30)" fill="url(#gauss)" opacity="0.28"/>
</g></g>
<g clip-path="url(#cp13)"><g filter="url(#dens)">
<ellipse cx="355.2" cy="210.1" rx="75" ry="33" fill="url(#gauss)" opacity="0.035"/>
<ellipse cx="0" cy="0" rx="41.40" ry="20.70" transform="translate(353,208) rotate(0)" fill="url(#gauss)" opacity="0.08"/>
<ellipse cx="0" cy="0" rx="22.42" ry="13.80" transform="translate(357,204) rotate(-10)" fill="url(#gauss)" opacity="0.28"/>
<ellipse cx="0" cy="0" rx="27.60" ry="17.25" transform="translate(379,194) rotate(-80)" fill="url(#gauss)" opacity="0.4"/>
<ellipse cx="0" cy="0" rx="15.52" ry="10.35" transform="translate(378,194.8) rotate(-85)" fill="url(#gauss)" opacity="0.75"/>
</g></g>
<g clip-path="url(#cp14)"><g filter="url(#dens)">
<ellipse cx="451.8" cy="210.1" rx="75" ry="33" fill="url(#gauss)" opacity="0.035"/>
<ellipse cx="0" cy="0" rx="48.30" ry="20.70" transform="translate(450,210) rotate(0)" fill="url(#gauss)" opacity="0.08"/>
<ellipse cx="0" cy="0" rx="29.32" ry="15.52" transform="translate(454,206) rotate(-5)" fill="url(#gauss)" opacity="0.3"/>
<ellipse cx="0" cy="0" rx="34.50" ry="20.70" transform="translate(478,196) rotate(-55)" fill="url(#gauss)" opacity="0.36"/>
<ellipse cx="0" cy="0" rx="20.70" ry="10.35" transform="translate(477,200) rotate(-30)" fill="url(#gauss)" opacity="0.45"/>
</g></g>
<line x1="79.3" y1="38.4" x2="79.3" y2="118.1" stroke="#454545" stroke-width="1"/>
<line x1="35.5" y1="84.3" x2="126.6" y2="84.3" stroke="#454545" stroke-width="1"/>
<text x="38.14" y="49.0" font-size="7.9" fill="#151515">0.1</text>
<text x="123.86" y="49.0" font-size="7.9" fill="#151515" text-anchor="end">0.4</text>
<text x="38.02" y="116.6" font-size="7.9" fill="#151515">94.2</text>
<text x="124.36" y="116.6" font-size="7.9" fill="#151515" text-anchor="end">5.4</text>
<text x="81.0" y="32.4" font-size="9.5" fill="#151515" text-anchor="middle">Day 0</text>
<line x1="177.5" y1="38.4" x2="177.5" y2="118.1" stroke="#454545" stroke-width="1"/>
<line x1="133.5" y1="84.3" x2="224.6" y2="84.3" stroke="#454545" stroke-width="1"/>
<text x="135.14" y="49.0" font-size="7.9" fill="#151515">0</text>
<text x="220.94" y="49.0" font-size="7.9" fill="#151515" text-anchor="end">2.2</text>
<text x="133.34" y="116.6" font-size="7.9" fill="#151515">81.5</text>
<text x="221.86" y="116.6" font-size="7.9" fill="#151515" text-anchor="end">16.6</text>
<text x="179.1" y="32.4" font-size="9.5" fill="#151515" text-anchor="middle">No Rx</text>
<line x1="274.4" y1="38.4" x2="274.4" y2="118.1" stroke="#454545" stroke-width="1"/>
<line x1="230.4" y1="84.3" x2="321.5" y2="84.3" stroke="#454545" stroke-width="1"/>
<text x="231.34" y="49.0" font-size="7.9" fill="#151515">10.2</text>
<text x="316.98" y="49.0" font-size="7.9" fill="#151515" text-anchor="end">60.0</text>
<text x="225.76" y="116.6" font-size="7.9" fill="#151515">23.5</text>
<text x="317.94" y="116.6" font-size="7.9" fill="#151515" text-anchor="end">6.3</text>
<text x="275.9" y="32.4" font-size="9.5" fill="#151515" text-anchor="middle">M-CSF</text>
<line x1="371.0" y1="38.4" x2="371.0" y2="118.1" stroke="#454545" stroke-width="1"/>
<line x1="326.3" y1="84.3" x2="417.5" y2="84.3" stroke="#454545" stroke-width="1"/>
<text x="328.14" y="49.0" font-size="7.9" fill="#151515">8.2</text>
<text x="413.86" y="49.0" font-size="7.9" fill="#151515" text-anchor="end">64.9</text>
<text x="326.34" y="116.6" font-size="7.9" fill="#151515">21.7</text>
<text x="413.78" y="116.6" font-size="7.9" fill="#151515" text-anchor="end">5.1</text>
<text x="371.9" y="32.4" font-size="9.5" fill="#151515" text-anchor="middle">PAM3</text>
<line x1="465.5" y1="38.4" x2="465.5" y2="118.1" stroke="#454545" stroke-width="1"/>
<line x1="422.8" y1="84.3" x2="512.4" y2="84.3" stroke="#454545" stroke-width="1"/>
<text x="423.64" y="49.0" font-size="7.9" fill="#151515">0.2</text>
<text x="507.48" y="49.0" font-size="7.9" fill="#151515" text-anchor="end">11.6</text>
<text x="421.96" y="116.6" font-size="7.9" fill="#151515">15.7</text>
<text x="506.82" y="116.6" font-size="7.9" fill="#151515" text-anchor="end">72.6</text>
<text x="467.6" y="32.4" font-size="9.5" fill="#151515" text-anchor="middle">IFNγ</text>
<line x1="79.2" y1="148.3" x2="79.2" y2="227.9" stroke="#454545" stroke-width="1"/>
<line x1="35.25" y1="194.2" x2="126.5" y2="194.2" stroke="#454545" stroke-width="1"/>
<text x="38.60" y="159.4" font-size="7.9" fill="#151515">0</text>
<text x="123.86" y="159.4" font-size="7.9" fill="#151515" text-anchor="end">1.4</text>
<text x="37.22" y="225.7" font-size="7.9" fill="#151515">36.2</text>
<text x="122.86" y="225.7" font-size="7.9" fill="#151515" text-anchor="end">62.4</text>
<text x="80.9" y="142.5" font-size="9.5" fill="#151515" text-anchor="middle">LPS</text>
<line x1="177.3" y1="148.3" x2="177.3" y2="227.9" stroke="#454545" stroke-width="1"/>
<line x1="133.5" y1="194.2" x2="224.5" y2="194.2" stroke="#454545" stroke-width="1"/>
<text x="136.14" y="159.4" font-size="7.9" fill="#151515">0.2</text>
<text x="221.86" y="159.4" font-size="7.9" fill="#151515" text-anchor="end">8.9</text>
<text x="135.06" y="225.7" font-size="7.9" fill="#151515">35.8</text>
<text x="220.78" y="225.7" font-size="7.9" fill="#151515" text-anchor="end">55.1</text>
<text x="179.0" y="142.5" font-size="9.5" fill="#151515" text-anchor="middle">R848</text>
<line x1="273.4" y1="148.3" x2="273.4" y2="227.9" stroke="#454545" stroke-width="1"/>
<line x1="229.25" y1="194.2" x2="320.6" y2="194.2" stroke="#454545" stroke-width="1"/>
<text x="229.76" y="159.4" font-size="7.9" fill="#151515">0.1</text>
<text x="316.98" y="159.4" font-size="7.9" fill="#151515" text-anchor="end">2.3</text>
<text x="230.64" y="225.7" font-size="7.9" fill="#151515">54.7</text>
<text x="315.48" y="225.7" font-size="7.9" fill="#151515" text-anchor="end">42.9</text>
<text x="274.9" y="142.5" font-size="9.5" fill="#151515" text-anchor="middle">MPLA</text>
<line x1="368.6" y1="148.3" x2="368.6" y2="227.9" stroke="#454545" stroke-width="1"/>
<line x1="324.6" y1="194.2" x2="415.8" y2="194.2" stroke="#454545" stroke-width="1"/>
<text x="328.06" y="159.4" font-size="7.9" fill="#151515">0.3</text>
<text x="411.40" y="159.4" font-size="7.9" fill="#151515" text-anchor="end">26.1</text>
<text x="326.64" y="225.7" font-size="7.9" fill="#151515">27.8</text>
<text x="411.48" y="225.7" font-size="7.9" fill="#151515" text-anchor="end">45.9</text>
<text x="370.2" y="142.5" font-size="9.5" fill="#151515" text-anchor="middle">PGN</text>
<line x1="465.9" y1="148.3" x2="465.9" y2="227.9" stroke="#454545" stroke-width="1"/>
<line x1="421.4" y1="194.2" x2="512.25" y2="194.2" stroke="#454545" stroke-width="1"/>
<text x="421.76" y="159.4" font-size="7.9" fill="#151515">0.1</text>
<text x="508.28" y="159.4" font-size="7.9" fill="#151515" text-anchor="end">16.4</text>
<text x="419.24" y="225.7" font-size="7.9" fill="#151515">29.8</text>
<text x="507.36" y="225.7" font-size="7.9" fill="#151515" text-anchor="end">53.7</text>
<text x="466.8" y="142.5" font-size="9.5" fill="#151515" text-anchor="middle">FSL-1</text>
<line x1="25" y1="46" x2="25" y2="119.6" stroke="#111" stroke-width="2"/>
<polygon points="25,38.6 28.7,47.8 25,46 21.3,47.8" fill="#111"/>
<line x1="25" y1="147" x2="25" y2="220" stroke="#111" stroke-width="2"/>
<polygon points="25,227.6 28.7,218.4 25,220.2 21.3,218.4" fill="#111"/>
<text transform="translate(27.2,133) rotate(-90) scale(0.7,1)" font-size="9.1" font-weight="bold" fill="#151515" text-anchor="middle">CD206</text>
<line x1="41" y1="239.1" x2="262.3" y2="239.1" stroke="#111" stroke-width="2"/>
<polygon points="35,239.1 43.4,235.5 41.6,239.1 43.4,242.7" fill="#111"/>
<line x1="283.8" y1="239.1" x2="505" y2="239.1" stroke="#111" stroke-width="2"/>
<polygon points="511.6,239.1 503.2,235.5 505,239.1 503.2,242.7" fill="#111"/>
<text transform="translate(273.5,242.3) scale(0.655,1)" font-size="9.7" font-weight="bold" fill="#151515" text-anchor="middle">25F9</text>
<line x1="61.8" y1="281.5" x2="61.8" y2="388.8" stroke="#111" stroke-width="1.3"/>
<line x1="61.2" y1="388.2" x2="202.8" y2="388.2" stroke="#111" stroke-width="1.3"/>
<line x1="58.6" y1="388.2" x2="61.8" y2="388.2" stroke="#111" stroke-width="1.2"/>
<text x="55.4" y="391.3" font-size="8.5" fill="#1a1a1a" text-anchor="end">0</text>
<line x1="58.6" y1="353.6" x2="61.8" y2="353.6" stroke="#111" stroke-width="1.2"/>
<text x="55.4" y="356.7" font-size="8.5" fill="#1a1a1a" text-anchor="end">10</text>
<line x1="58.6" y1="318.9" x2="61.8" y2="318.9" stroke="#111" stroke-width="1.2"/>
<text x="55.4" y="322.0" font-size="8.5" fill="#1a1a1a" text-anchor="end">20</text>
<line x1="58.6" y1="284.2" x2="61.8" y2="284.2" stroke="#111" stroke-width="1.2"/>
<text x="55.4" y="287.4" font-size="8.5" fill="#1a1a1a" text-anchor="end">30</text>
<line x1="70.8" y1="388.2" x2="70.8" y2="391" stroke="#111" stroke-width="1.2"/>
<line x1="84.3" y1="388.2" x2="84.3" y2="391" stroke="#111" stroke-width="1.2"/>
<line x1="98.0" y1="388.2" x2="98.0" y2="391" stroke="#111" stroke-width="1.2"/>
<line x1="111.6" y1="388.2" x2="111.6" y2="391" stroke="#111" stroke-width="1.2"/>
<line x1="125.2" y1="388.2" x2="125.2" y2="391" stroke="#111" stroke-width="1.2"/>
<line x1="138.8" y1="388.2" x2="138.8" y2="391" stroke="#111" stroke-width="1.2"/>
<line x1="152.3" y1="388.2" x2="152.3" y2="391" stroke="#111" stroke-width="1.2"/>
<line x1="165.8" y1="388.2" x2="165.8" y2="391" stroke="#111" stroke-width="1.2"/>
<line x1="179.5" y1="388.2" x2="179.5" y2="391" stroke="#111" stroke-width="1.2"/>
<line x1="193.1" y1="388.2" x2="193.1" y2="391" stroke="#111" stroke-width="1.2"/>
<line x1="70.8" y1="371.6" x2="70.8" y2="379.2" stroke="#111" stroke-width="1.2"/>
<line x1="68.6" y1="371.6" x2="73.0" y2="371.6" stroke="#111" stroke-width="1.6"/>
<rect x="66.4" y="379.2" width="8.8" height="9.0" fill="#f9fcee" stroke="#98a882" stroke-width="0.9"/>
<line x1="84.3" y1="303.3" x2="84.3" y2="319.9" stroke="#111" stroke-width="1.2"/>
<line x1="82.1" y1="303.3" x2="86.5" y2="303.3" stroke="#111" stroke-width="1.6"/>
<rect x="80.4" y="319.9" width="7.8" height="68.3" fill="#b3123a"/>
<text x="84.3" y="302.5" font-size="8.4" font-weight="bold" fill="#111" text-anchor="middle">**</text>
<line x1="98.0" y1="290.8" x2="98.0" y2="314.7" stroke="#111" stroke-width="1.2"/>
<line x1="95.8" y1="290.8" x2="100.2" y2="290.8" stroke="#111" stroke-width="1.6"/>
<rect x="94.1" y="314.7" width="7.8" height="73.5" fill="#2d4e8d"/>
<text x="98.0" y="290.0" font-size="8.4" font-weight="bold" fill="#111" text-anchor="middle">**</text>
<line x1="125.2" y1="331.0" x2="125.2" y2="348.4" stroke="#111" stroke-width="1.2"/>
<line x1="123.0" y1="331.0" x2="127.4" y2="331.0" stroke="#111" stroke-width="1.6"/>
<rect x="121.3" y="348.4" width="7.8" height="39.8" fill="url(#hatch)" stroke="#1d3012" stroke-width="0.6"/>
<text x="125.2" y="330.2" font-size="8.4" font-weight="bold" fill="#111" text-anchor="middle">**</text>
<line x1="138.8" y1="316.3" x2="138.8" y2="334.5" stroke="#111" stroke-width="1.2"/>
<line x1="136.6" y1="316.3" x2="141.0" y2="316.3" stroke="#111" stroke-width="1.6"/>
<rect x="134.9" y="334.5" width="7.8" height="53.7" fill="url(#hatch)" stroke="#1d3012" stroke-width="0.6"/>
<text x="138.8" y="315.5" font-size="8.4" font-weight="bold" fill="#111" text-anchor="middle">**</text>
<line x1="152.3" y1="338.0" x2="152.3" y2="352.5" stroke="#111" stroke-width="1.2"/>
<line x1="150.1" y1="338.0" x2="154.5" y2="338.0" stroke="#111" stroke-width="1.6"/>
<rect x="148.4" y="352.5" width="7.8" height="35.7" fill="url(#hatch)" stroke="#1d3012" stroke-width="0.6"/>
<text x="152.3" y="337.1" font-size="8.4" font-weight="bold" fill="#111" text-anchor="middle">***</text>
<line x1="165.8" y1="325.1" x2="165.8" y2="340.4" stroke="#111" stroke-width="1.2"/>
<line x1="163.6" y1="325.1" x2="168.0" y2="325.1" stroke="#111" stroke-width="1.6"/>
<rect x="161.9" y="340.4" width="7.8" height="47.8" fill="url(#hatch)" stroke="#1d3012" stroke-width="0.6"/>
<text x="165.8" y="324.3" font-size="8.4" font-weight="bold" fill="#111" text-anchor="middle">**</text>
<line x1="179.5" y1="314.4" x2="179.5" y2="334.8" stroke="#111" stroke-width="1.2"/>
<line x1="177.3" y1="314.4" x2="181.7" y2="314.4" stroke="#111" stroke-width="1.6"/>
<rect x="175.6" y="334.8" width="7.8" height="53.4" fill="url(#hatch)" stroke="#1d3012" stroke-width="0.6"/>
<text x="179.5" y="313.5" font-size="8.4" font-weight="bold" fill="#111" text-anchor="middle">**</text>
<line x1="193.1" y1="340.0" x2="193.1" y2="356.3" stroke="#111" stroke-width="1.2"/>
<line x1="190.9" y1="340.0" x2="195.3" y2="340.0" stroke="#111" stroke-width="1.6"/>
<rect x="189.2" y="356.3" width="7.8" height="31.9" fill="url(#hatch)" stroke="#1d3012" stroke-width="0.6"/>
<text x="193.1" y="339.2" font-size="8.4" font-weight="bold" fill="#111" text-anchor="middle">*</text>
<text transform="translate(73.2,394.4) rotate(-90)" font-size="8.3" fill="#151515" text-anchor="end">No Rx</text>
<text transform="translate(86.7,394.4) rotate(-90)" font-size="8.3" fill="#151515" text-anchor="end">M-CSF</text>
<text transform="translate(100.4,394.4) rotate(-90)" font-size="8.3" fill="#151515" text-anchor="end">PAM3</text>
<text transform="translate(127.6,394.4) rotate(-90)" font-size="8.3" fill="#151515" text-anchor="end">IFNγ</text>
<text transform="translate(141.2,394.4) rotate(-90)" font-size="8.3" fill="#151515" text-anchor="end">LPS</text>
<text transform="translate(154.7,394.4) rotate(-90)" font-size="8.3" fill="#151515" text-anchor="end">MPLA</text>
<text transform="translate(168.2,394.4) rotate(-90)" font-size="8.3" fill="#151515" text-anchor="end">R848</text>
<text transform="translate(181.9,394.4) rotate(-90)" font-size="8.3" fill="#151515" text-anchor="end">PGN</text>
<text transform="translate(195.5,394.4) rotate(-90)" font-size="8.3" fill="#151515" text-anchor="end">FSL-1</text>
<text transform="translate(28.4,336.4) rotate(-90) scale(0.66,1)" font-size="9.6" style="stroke-width:0.3px" fill="#151515" text-anchor="middle">Fold change in</text>
<text transform="translate(39.2,334.4) rotate(-90) scale(0.78,1)" font-size="9.6" style="stroke-width:0.3px" fill="#151515" text-anchor="middle"># of 25F9<tspan font-size="6.5" dy="-3">+</tspan><tspan dy="3"> cells</tspan></text>
<line x1="267.3" y1="296.5" x2="267.3" y2="391.5" stroke="#111" stroke-width="1.3"/>
<line x1="264.4" y1="299.1" x2="267.3" y2="299.1" stroke="#111" stroke-width="1.2"/>
<text x="261.5" y="302.0" font-size="8" fill="#1a1a1a" text-anchor="end">10</text>
<line x1="264.4" y1="328.6" x2="267.3" y2="328.6" stroke="#111" stroke-width="1.2"/>
<text x="261.5" y="331.5" font-size="8" fill="#1a1a1a" text-anchor="end">0</text>
<line x1="264.4" y1="358.1" x2="267.3" y2="358.1" stroke="#111" stroke-width="1.2"/>
<text x="261.5" y="361.0" font-size="8" fill="#1a1a1a" text-anchor="end">-10</text>
<line x1="264.4" y1="387.6" x2="267.3" y2="387.6" stroke="#111" stroke-width="1.2"/>
<text x="261.5" y="390.5" font-size="8" fill="#1a1a1a" text-anchor="end">-20</text>
<line x1="274.35" y1="303.8" x2="274.35" y2="312.1" stroke="#111" stroke-width="1.2"/>
<line x1="272.2" y1="303.8" x2="276.6" y2="303.8" stroke="#111" stroke-width="1.6"/>
<rect x="270.6" y="312.1" width="7.6" height="16.5" fill="#b3123a"/>
<text x="274.4" y="303.1" font-size="8.4" font-weight="bold" fill="#111" text-anchor="middle">***</text>
<line x1="287.4" y1="310.3" x2="287.4" y2="316.8" stroke="#111" stroke-width="1.2"/>
<line x1="285.2" y1="310.3" x2="289.6" y2="310.3" stroke="#111" stroke-width="1.6"/>
<rect x="283.6" y="316.8" width="7.6" height="11.8" fill="#2d4e8d"/>
<text x="287.4" y="309.6" font-size="8.4" font-weight="bold" fill="#111" text-anchor="middle">***</text>
<line x1="313.95" y1="354.0" x2="313.95" y2="341.3" stroke="#111" stroke-width="1.2"/>
<line x1="311.8" y1="354.0" x2="316.1" y2="354.0" stroke="#111" stroke-width="1.6"/>
<rect x="310.1" y="328.6" width="7.6" height="12.7" fill="url(#hatch)" stroke="#1d3012" stroke-width="0.6"/>
<text x="313.9" y="362.5" font-size="8.4" font-weight="bold" fill="#111" text-anchor="middle">**</text>
<line x1="327.1" y1="392.9" x2="327.1" y2="371.7" stroke="#111" stroke-width="1.2"/>
<line x1="324.9" y1="392.9" x2="329.3" y2="392.9" stroke="#111" stroke-width="1.6"/>
<rect x="323.3" y="328.6" width="7.6" height="43.1" fill="url(#hatch)" stroke="#1d3012" stroke-width="0.6"/>
<text x="327.1" y="401.4" font-size="8.4" font-weight="bold" fill="#111" text-anchor="middle">***</text>
<line x1="340.3" y1="357.2" x2="340.3" y2="348.4" stroke="#111" stroke-width="1.2"/>
<line x1="338.1" y1="357.2" x2="342.5" y2="357.2" stroke="#111" stroke-width="1.6"/>
<rect x="336.5" y="328.6" width="7.6" height="19.8" fill="url(#hatch)" stroke="#1d3012" stroke-width="0.6"/>
<text x="340.3" y="365.7" font-size="8.4" font-weight="bold" fill="#111" text-anchor="middle">***</text>
<line x1="353.25" y1="345.1" x2="353.25" y2="340.1" stroke="#111" stroke-width="1.2"/>
<line x1="351.1" y1="345.1" x2="355.4" y2="345.1" stroke="#111" stroke-width="1.6"/>
<rect x="349.4" y="328.6" width="7.6" height="11.5" fill="url(#hatch)" stroke="#1d3012" stroke-width="0.6"/>
<text x="353.2" y="353.6" font-size="8.4" font-weight="bold" fill="#111" text-anchor="middle">**</text>
<line x1="366.65" y1="351.6" x2="366.65" y2="341.3" stroke="#111" stroke-width="1.2"/>
<line x1="364.4" y1="351.6" x2="368.8" y2="351.6" stroke="#111" stroke-width="1.6"/>
<rect x="362.8" y="328.6" width="7.6" height="12.7" fill="url(#hatch)" stroke="#1d3012" stroke-width="0.6"/>
<text x="366.6" y="360.1" font-size="8.4" font-weight="bold" fill="#111" text-anchor="middle">***</text>
<line x1="379.95" y1="338.6" x2="379.95" y2="336.0" stroke="#111" stroke-width="1.2"/>
<line x1="377.8" y1="338.6" x2="382.1" y2="338.6" stroke="#111" stroke-width="1.6"/>
<rect x="376.1" y="328.6" width="7.6" height="7.4" fill="url(#hatch)" stroke="#1d3012" stroke-width="0.6"/>
<text x="379.9" y="347.1" font-size="8.4" font-weight="bold" fill="#111" text-anchor="middle">**</text>
<line x1="266.6" y1="328.6" x2="384.8" y2="328.6" stroke="#111" stroke-width="1.7"/>
<text transform="translate(276.5,332.0) rotate(-90)" font-size="8.3" fill="#151515" text-anchor="end">M-CSF</text>
<text transform="translate(289.5,332.0) rotate(-90)" font-size="8.3" fill="#151515" text-anchor="end">PAM3</text>
<text transform="translate(315.8,325.8) rotate(-90)" font-size="8.1" fill="#151515" text-anchor="start">IFNγ</text>
<text transform="translate(329.0,325.8) rotate(-90)" font-size="8.1" fill="#151515" text-anchor="start">LPS</text>
<text transform="translate(342.2,325.8) rotate(-90)" font-size="8.1" fill="#151515" text-anchor="start">MPLA</text>
<text transform="translate(355.1,325.8) rotate(-90)" font-size="8.1" fill="#151515" text-anchor="start">R848</text>
<text transform="translate(368.5,325.8) rotate(-90)" font-size="8.1" fill="#151515" text-anchor="start">PGN</text>
<text transform="translate(381.8,325.8) rotate(-90)" font-size="8.1" fill="#151515" text-anchor="start">FSL-1</text>
<text transform="translate(243.4,342.5) rotate(-90) scale(0.71,1)" font-size="10" fill="#151515" text-anchor="middle">CD206<tspan font-size="6.5" dy="-3">+</tspan><tspan dy="3"> : CD206</tspan><tspan font-size="6.5" dy="-3">–</tspan><tspan dy="3"> ratio</tspan></text>
<rect x="0" y="0" width="520" height="1.3" fill="#000"/>
<rect x="0" y="0" width="1.4" height="428" fill="#000"/>
<rect x="518.3" y="0" width="1.7" height="428" fill="#000"/>
<rect x="0" y="426.3" width="520" height="1.7" fill="#000"/>
</svg></body></html>
